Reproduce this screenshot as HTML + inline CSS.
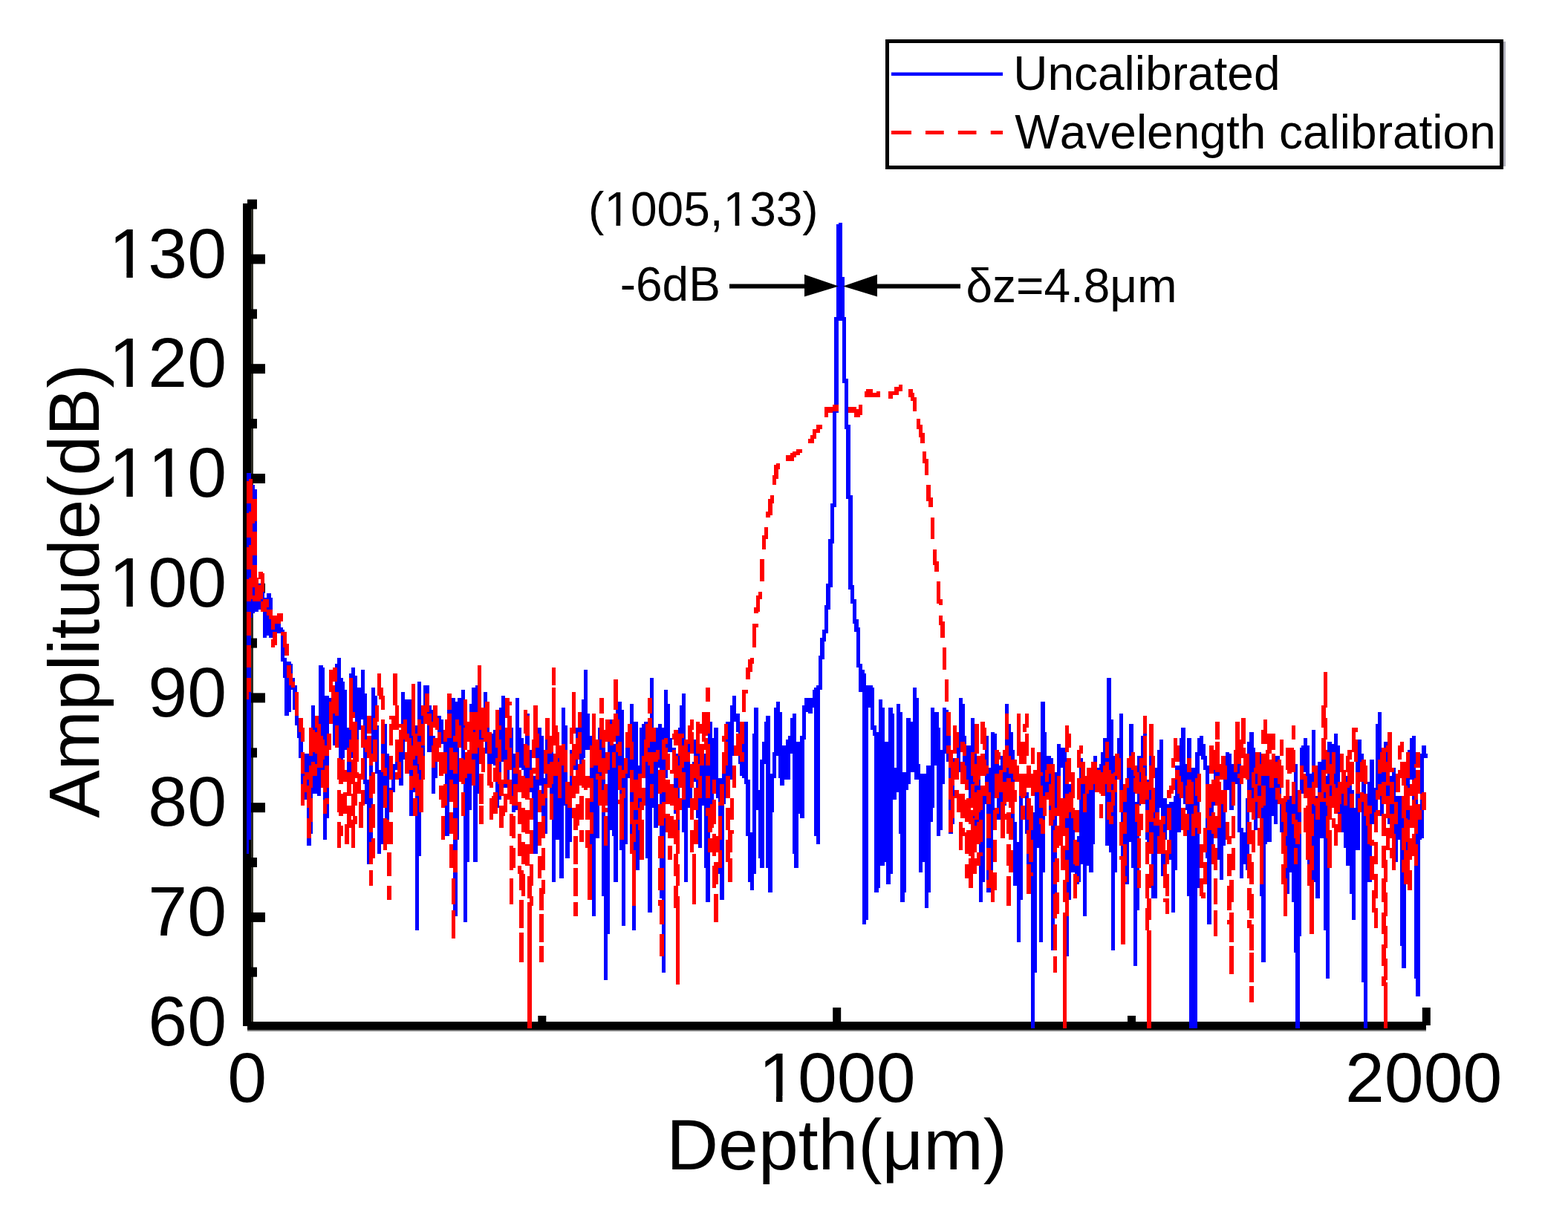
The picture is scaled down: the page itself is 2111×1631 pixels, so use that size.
<!DOCTYPE html>
<html><head><meta charset="utf-8"><title>Amplitude vs Depth</title>
<style>html,body{margin:0;padding:0;background:#fff;}svg{display:block;}text{font-kerning:none;font-feature-settings:"kern" 0;}</style>
</head><body>
<svg width="2111" height="1631" viewBox="0 0 2111 1631" font-family='"Liberation Sans", sans-serif'>
<rect width="2111" height="1631" fill="#fff"/>
<rect x="327" y="274" width="11" height="1108" fill="#000"/><rect x="338" y="274" width="3" height="1102" fill="#2e2e26"/><rect x="333" y="1376" width="1587" height="11" fill="#000"/><rect x="333" y="1387" width="1587" height="2" fill="#808080"/><rect x="333" y="1302.7" width="13" height="13" fill="#000"/><rect x="333" y="1228.9" width="24" height="13" fill="#000"/><rect x="333" y="1155.0" width="13" height="13" fill="#000"/><rect x="333" y="1081.2" width="24" height="13" fill="#000"/><rect x="333" y="1007.3" width="13" height="13" fill="#000"/><rect x="333" y="933.4" width="24" height="13" fill="#000"/><rect x="333" y="859.6" width="13" height="13" fill="#000"/><rect x="333" y="785.7" width="24" height="13" fill="#000"/><rect x="333" y="711.8" width="13" height="13" fill="#000"/><rect x="333" y="638.0" width="24" height="13" fill="#000"/><rect x="333" y="564.1" width="13" height="13" fill="#000"/><rect x="333" y="490.2" width="24" height="13" fill="#000"/><rect x="333" y="416.4" width="13" height="13" fill="#000"/><rect x="333" y="342.5" width="24" height="13" fill="#000"/><rect x="333" y="268.6" width="13" height="13" fill="#000"/><rect x="724.3" y="1368" width="11" height="13" fill="#000"/><rect x="1121.2" y="1357" width="11" height="24" fill="#000"/><rect x="1518.0" y="1368" width="11" height="13" fill="#000"/><rect x="1914.8" y="1357" width="11" height="24" fill="#000"/>
<g shape-rendering="crispEdges"><path fill="#0000ff" d="M332.1 637.2h2.7v10.8h-2.7zM332.1 677.7h2.7v13.5h-2.7zM332.1 723.6h2.7v13.5h-2.7zM332.1 766.8h2.7v13.5h-2.7zM332.1 810.0h2.7v13.5h-2.7zM332.1 855.9h2.7v13.5h-2.7zM332.1 899.1h2.7v13.5h-2.7zM332.1 942.3h2.7v207.9h-2.7zM334.8 637.2h2.7v8.1h-2.7zM334.8 677.7h2.7v10.8h-2.7zM334.8 723.6h2.7v10.8h-2.7zM334.8 766.8h2.7v10.8h-2.7zM334.8 810.0h2.7v13.5h-2.7zM334.8 855.9h2.7v13.5h-2.7zM334.8 899.1h2.7v13.5h-2.7zM334.8 931.5h2.7v199.8h-2.7zM337.5 807.3h2.7v24.3h-2.7zM340.2 653.4h2.7v18.9h-2.7zM340.2 704.7h2.7v10.8h-2.7zM340.2 747.9h2.7v13.5h-2.7zM340.2 791.1h2.7v10.8h-2.7zM340.2 810.0h2.7v16.2h-2.7zM342.9 658.8h2.7v13.5h-2.7zM342.9 702.0h2.7v13.5h-2.7zM342.9 747.9h2.7v13.5h-2.7zM342.9 810.0h2.7v13.5h-2.7zM345.6 810.0h2.7v13.5h-2.7zM348.3 785.7h2.7v2.7h-2.7zM348.3 810.0h2.7v10.8h-2.7zM351.0 807.3h2.7v2.7h-2.7zM353.7 796.5h2.7v10.8h-2.7zM353.7 823.5h2.7v35.1h-2.7zM356.4 804.6h2.7v2.7h-2.7zM356.4 823.5h2.7v35.1h-2.7zM359.1 799.2h2.7v8.1h-2.7zM359.1 818.1h2.7v2.7h-2.7zM359.1 828.9h2.7v27.0h-2.7zM361.8 799.2h2.7v21.6h-2.7zM361.8 834.3h2.7v24.3h-2.7zM364.5 804.6h2.7v16.2h-2.7zM364.5 847.8h2.7v10.8h-2.7zM367.2 847.8h2.7v2.7h-2.7zM369.9 839.7h2.7v10.8h-2.7zM372.6 839.7h2.7v13.5h-2.7zM375.3 839.7h2.7v13.5h-2.7zM378.0 845.1h2.7v5.4h-2.7zM378.0 855.9h2.7v35.1h-2.7zM380.7 847.8h2.7v2.7h-2.7zM380.7 872.1h2.7v40.5h-2.7zM383.4 885.6h2.7v78.3h-2.7zM386.1 891.0h2.7v5.4h-2.7zM386.1 912.6h2.7v51.3h-2.7zM388.8 891.0h2.7v5.4h-2.7zM388.8 923.4h2.7v35.1h-2.7zM391.5 893.7h2.7v13.5h-2.7zM391.5 926.1h2.7v2.7h-2.7zM394.2 912.6h2.7v5.4h-2.7zM394.2 926.1h2.7v29.7h-2.7zM396.9 923.4h2.7v8.1h-2.7zM396.9 963.9h2.7v13.5h-2.7zM399.6 963.9h2.7v29.7h-2.7zM402.3 985.5h2.7v35.1h-2.7zM405.0 999.0h2.7v13.5h-2.7zM405.0 1042.2h2.7v13.5h-2.7zM407.7 1042.2h2.7v2.7h-2.7zM410.4 1015.2h2.7v24.3h-2.7zM410.4 1066.5h2.7v10.8h-2.7zM413.1 1015.2h2.7v24.3h-2.7zM413.1 1050.3h2.7v8.1h-2.7zM413.1 1088.1h2.7v13.5h-2.7zM413.1 1128.6h2.7v10.8h-2.7zM415.8 1017.9h2.7v13.5h-2.7zM415.8 1128.6h2.7v10.8h-2.7zM418.5 950.4h2.7v29.7h-2.7zM418.5 1017.9h2.7v8.1h-2.7zM418.5 1061.1h2.7v13.5h-2.7zM418.5 1107.0h2.7v16.2h-2.7zM421.2 950.4h2.7v32.4h-2.7zM421.2 1012.5h2.7v13.5h-2.7zM421.2 1044.9h2.7v24.3h-2.7zM423.9 980.1h2.7v5.4h-2.7zM423.9 1015.2h2.7v13.5h-2.7zM423.9 1044.9h2.7v24.3h-2.7zM426.6 1034.1h2.7v37.8h-2.7zM429.3 896.4h2.7v78.3h-2.7zM429.3 1034.1h2.7v37.8h-2.7zM432.0 896.4h2.7v94.5h-2.7zM432.0 1034.1h2.7v2.7h-2.7zM434.7 899.1h2.7v97.2h-2.7zM434.7 1023.3h2.7v13.5h-2.7zM434.7 1066.5h2.7v10.8h-2.7zM434.7 1096.2h2.7v35.1h-2.7zM437.4 936.9h2.7v67.5h-2.7zM437.4 1017.9h2.7v13.5h-2.7zM437.4 1066.5h2.7v8.1h-2.7zM437.4 1096.2h2.7v35.1h-2.7zM440.1 936.9h2.7v51.3h-2.7zM440.1 1017.9h2.7v13.5h-2.7zM440.1 1061.1h2.7v13.5h-2.7zM440.1 1082.7h2.7v18.9h-2.7zM442.8 939.6h2.7v5.4h-2.7zM448.2 961.2h2.7v43.2h-2.7zM450.9 893.7h2.7v5.4h-2.7zM450.9 918.0h2.7v13.5h-2.7zM450.9 963.9h2.7v13.5h-2.7zM453.6 885.6h2.7v45.9h-2.7zM453.6 963.9h2.7v13.5h-2.7zM456.3 885.6h2.7v135.0h-2.7zM459.0 912.6h2.7v110.7h-2.7zM461.7 918.0h2.7v102.6h-2.7zM464.4 928.8h2.7v81.0h-2.7zM467.1 980.1h2.7v27.0h-2.7zM467.1 1026.0h2.7v13.5h-2.7zM469.8 907.2h2.7v5.4h-2.7zM469.8 982.8h2.7v13.5h-2.7zM469.8 1026.0h2.7v13.5h-2.7zM472.5 899.1h2.7v13.5h-2.7zM472.5 1012.5h2.7v8.1h-2.7zM475.2 899.1h2.7v59.4h-2.7zM477.9 909.9h2.7v62.1h-2.7zM480.6 926.1h2.7v70.2h-2.7zM483.3 926.1h2.7v56.7h-2.7zM486.0 901.8h2.7v67.5h-2.7zM488.7 901.8h2.7v75.6h-2.7zM488.7 1007.1h2.7v13.5h-2.7zM488.7 1050.3h2.7v5.4h-2.7zM491.4 934.2h2.7v62.1h-2.7zM491.4 1012.5h2.7v70.2h-2.7zM494.1 1050.3h2.7v113.4h-2.7zM496.8 1031.4h2.7v13.5h-2.7zM496.8 1074.6h2.7v13.5h-2.7zM496.8 1120.5h2.7v13.5h-2.7zM499.5 926.1h2.7v89.1h-2.7zM499.5 1031.4h2.7v8.1h-2.7zM499.5 1074.6h2.7v8.1h-2.7zM499.5 1120.5h2.7v8.1h-2.7zM502.2 926.1h2.7v40.5h-2.7zM502.2 982.8h2.7v13.5h-2.7zM504.9 936.9h2.7v13.5h-2.7zM504.9 982.8h2.7v13.5h-2.7zM504.9 1026.0h2.7v16.2h-2.7zM507.6 977.4h2.7v172.8h-2.7zM510.3 1036.8h2.7v113.4h-2.7zM513.0 1001.7h2.7v13.5h-2.7zM513.0 1039.5h2.7v97.2h-2.7zM515.7 1001.7h2.7v13.5h-2.7zM515.7 1044.9h2.7v13.5h-2.7zM518.4 974.7h2.7v59.4h-2.7zM518.4 1044.9h2.7v13.5h-2.7zM518.4 1088.1h2.7v13.5h-2.7zM521.1 1015.2h2.7v89.1h-2.7zM523.8 1061.1h2.7v2.7h-2.7zM526.5 1050.3h2.7v13.5h-2.7zM529.2 1028.7h2.7v37.8h-2.7zM531.9 1026.0h2.7v10.8h-2.7zM537.3 1012.5h2.7v13.5h-2.7zM537.3 1047.6h2.7v10.8h-2.7zM540.0 931.5h2.7v43.2h-2.7zM540.0 1012.5h2.7v45.9h-2.7zM542.7 931.5h2.7v37.8h-2.7zM542.7 996.3h2.7v27.0h-2.7zM545.4 942.3h2.7v27.0h-2.7zM548.1 942.3h2.7v45.9h-2.7zM550.8 942.3h2.7v51.3h-2.7zM550.8 1036.8h2.7v8.1h-2.7zM550.8 1063.8h2.7v35.1h-2.7zM553.5 990.9h2.7v13.5h-2.7zM553.5 1036.8h2.7v8.1h-2.7zM553.5 1063.8h2.7v35.1h-2.7zM556.2 1023.3h2.7v8.1h-2.7zM556.2 1061.1h2.7v5.4h-2.7zM558.9 977.4h2.7v10.8h-2.7zM558.9 1017.9h2.7v13.5h-2.7zM558.9 1071.9h2.7v2.7h-2.7zM558.9 1098.9h2.7v153.9h-2.7zM561.6 918.0h2.7v51.3h-2.7zM561.6 990.9h2.7v8.1h-2.7zM561.6 1028.7h2.7v13.5h-2.7zM561.6 1071.9h2.7v180.9h-2.7zM564.3 918.0h2.7v51.3h-2.7zM564.3 990.9h2.7v8.1h-2.7zM564.3 1036.8h2.7v13.5h-2.7zM564.3 1093.5h2.7v59.4h-2.7zM567.0 963.9h2.7v10.8h-2.7zM567.0 1004.4h2.7v2.7h-2.7zM569.7 923.4h2.7v27.0h-2.7zM569.7 1004.4h2.7v13.5h-2.7zM572.4 923.4h2.7v10.8h-2.7zM575.1 923.4h2.7v10.8h-2.7zM575.1 958.5h2.7v2.7h-2.7zM575.1 977.4h2.7v35.1h-2.7zM577.8 950.4h2.7v10.8h-2.7zM577.8 990.9h2.7v21.6h-2.7zM580.5 955.8h2.7v16.2h-2.7zM580.5 990.9h2.7v13.5h-2.7zM580.5 1034.1h2.7v35.1h-2.7zM583.2 990.9h2.7v2.7h-2.7zM583.2 1034.1h2.7v35.1h-2.7zM585.9 1026.0h2.7v21.6h-2.7zM588.6 963.9h2.7v2.7h-2.7zM588.6 982.8h2.7v2.7h-2.7zM591.3 963.9h2.7v21.6h-2.7zM594.0 969.3h2.7v32.4h-2.7zM596.7 999.0h2.7v13.5h-2.7zM599.4 999.0h2.7v13.5h-2.7zM599.4 1042.2h2.7v13.5h-2.7zM599.4 1085.4h2.7v40.5h-2.7zM602.1 955.8h2.7v5.4h-2.7zM602.1 993.6h2.7v132.3h-2.7zM604.8 955.8h2.7v5.4h-2.7zM604.8 993.6h2.7v13.5h-2.7zM604.8 1036.8h2.7v13.5h-2.7zM607.5 939.6h2.7v67.5h-2.7zM607.5 1036.8h2.7v13.5h-2.7zM610.2 939.6h2.7v51.3h-2.7zM610.2 999.0h2.7v13.5h-2.7zM610.2 1042.2h2.7v13.5h-2.7zM610.2 1088.1h2.7v13.5h-2.7zM610.2 1131.3h2.7v13.5h-2.7zM610.2 1174.5h2.7v8.1h-2.7zM610.2 1217.7h2.7v8.1h-2.7zM612.9 945.0h2.7v24.3h-2.7zM612.9 999.0h2.7v13.5h-2.7zM612.9 1042.2h2.7v13.5h-2.7zM612.9 1088.1h2.7v13.5h-2.7zM612.9 1131.3h2.7v13.5h-2.7zM612.9 1174.5h2.7v59.4h-2.7zM615.6 939.6h2.7v29.7h-2.7zM615.6 1007.1h2.7v124.2h-2.7zM618.3 939.6h2.7v37.8h-2.7zM621.0 928.8h2.7v91.8h-2.7zM623.7 928.8h2.7v13.5h-2.7zM623.7 977.4h2.7v2.7h-2.7zM623.7 1009.8h2.7v13.5h-2.7zM623.7 1055.7h2.7v10.8h-2.7zM623.7 1098.9h2.7v143.1h-2.7zM626.4 1047.6h2.7v194.4h-2.7zM629.1 1042.2h2.7v118.8h-2.7zM631.8 947.7h2.7v10.8h-2.7zM631.8 1042.2h2.7v48.6h-2.7zM634.5 926.1h2.7v32.4h-2.7zM634.5 1015.2h2.7v8.1h-2.7zM637.2 926.1h2.7v32.4h-2.7zM637.2 982.8h2.7v2.7h-2.7zM637.2 1015.2h2.7v8.1h-2.7zM637.2 1058.4h2.7v102.6h-2.7zM639.9 923.4h2.7v35.1h-2.7zM639.9 1015.2h2.7v145.8h-2.7zM642.6 1007.1h2.7v62.1h-2.7zM645.3 982.8h2.7v13.5h-2.7zM648.0 993.6h2.7v2.7h-2.7zM650.7 931.5h2.7v21.6h-2.7zM653.4 931.5h2.7v13.5h-2.7zM653.4 999.0h2.7v16.2h-2.7zM656.1 980.1h2.7v5.4h-2.7zM656.1 1015.2h2.7v13.5h-2.7zM658.8 1015.2h2.7v13.5h-2.7zM661.5 988.2h2.7v40.5h-2.7zM664.2 982.8h2.7v48.6h-2.7zM666.9 1007.1h2.7v13.5h-2.7zM666.9 1053.0h2.7v13.5h-2.7zM669.6 1055.7h2.7v32.4h-2.7zM672.3 953.1h2.7v24.3h-2.7zM672.3 982.8h2.7v13.5h-2.7zM672.3 1026.0h2.7v13.5h-2.7zM672.3 1071.9h2.7v5.4h-2.7zM675.0 936.9h2.7v89.1h-2.7zM677.7 936.9h2.7v86.4h-2.7zM677.7 1055.7h2.7v5.4h-2.7zM680.4 1009.8h2.7v13.5h-2.7zM680.4 1055.7h2.7v5.4h-2.7zM683.1 1036.8h2.7v13.5h-2.7zM685.8 993.6h2.7v13.5h-2.7zM688.5 980.1h2.7v91.8h-2.7zM688.5 1085.4h2.7v8.1h-2.7zM691.2 1015.2h2.7v18.9h-2.7zM691.2 1042.2h2.7v13.5h-2.7zM691.2 1085.4h2.7v8.1h-2.7zM693.9 939.6h2.7v72.9h-2.7zM693.9 1042.2h2.7v13.5h-2.7zM693.9 1085.4h2.7v5.4h-2.7zM696.6 939.6h2.7v72.9h-2.7zM699.3 980.1h2.7v54.0h-2.7zM702.0 993.6h2.7v43.2h-2.7zM704.7 1031.4h2.7v13.5h-2.7zM707.4 990.9h2.7v10.8h-2.7zM707.4 1034.1h2.7v13.5h-2.7zM710.1 961.2h2.7v2.7h-2.7zM710.1 990.9h2.7v13.5h-2.7zM710.1 1034.1h2.7v13.5h-2.7zM712.8 1009.8h2.7v27.0h-2.7zM712.8 1061.1h2.7v5.4h-2.7zM715.5 1061.1h2.7v13.5h-2.7zM718.2 1044.9h2.7v105.3h-2.7zM720.9 1007.1h2.7v13.5h-2.7zM720.9 1050.3h2.7v99.9h-2.7zM723.6 980.1h2.7v8.1h-2.7zM723.6 1007.1h2.7v13.5h-2.7zM723.6 1050.3h2.7v13.5h-2.7zM726.3 980.1h2.7v78.3h-2.7zM729.0 990.9h2.7v78.3h-2.7zM729.0 1085.4h2.7v13.5h-2.7zM731.7 1047.6h2.7v8.1h-2.7zM731.7 1085.4h2.7v13.5h-2.7zM734.4 996.3h2.7v13.5h-2.7zM734.4 1042.2h2.7v13.5h-2.7zM734.4 1074.6h2.7v48.6h-2.7zM737.1 1015.2h2.7v13.5h-2.7zM739.8 1015.2h2.7v10.8h-2.7zM739.8 1061.1h2.7v8.1h-2.7zM742.5 1012.5h2.7v13.5h-2.7zM742.5 1055.7h2.7v13.5h-2.7zM742.5 1104.3h2.7v83.7h-2.7zM745.2 1044.9h2.7v143.1h-2.7zM747.9 1044.9h2.7v86.4h-2.7zM750.6 1020.6h2.7v5.4h-2.7zM750.6 1074.6h2.7v56.7h-2.7zM753.3 1074.6h2.7v108.0h-2.7zM756.0 953.1h2.7v48.6h-2.7zM756.0 1031.4h2.7v151.2h-2.7zM758.7 953.1h2.7v48.6h-2.7zM758.7 1039.5h2.7v45.9h-2.7zM761.4 977.4h2.7v32.4h-2.7zM761.4 1039.5h2.7v13.5h-2.7zM761.4 1082.7h2.7v72.9h-2.7zM764.1 1088.1h2.7v67.5h-2.7zM766.8 1009.8h2.7v5.4h-2.7zM766.8 1044.9h2.7v13.5h-2.7zM766.8 1088.1h2.7v45.9h-2.7zM772.2 1031.4h2.7v5.4h-2.7zM774.9 980.1h2.7v13.5h-2.7zM774.9 1023.3h2.7v13.5h-2.7zM777.6 980.1h2.7v5.4h-2.7zM780.3 980.1h2.7v5.4h-2.7zM780.3 1015.2h2.7v13.5h-2.7zM783.0 942.3h2.7v81.0h-2.7zM785.7 901.8h2.7v118.8h-2.7zM788.4 901.8h2.7v108.0h-2.7zM791.1 961.2h2.7v48.6h-2.7zM793.8 990.9h2.7v13.5h-2.7zM793.8 1034.1h2.7v13.5h-2.7zM793.8 1080.0h2.7v13.5h-2.7zM793.8 1123.2h2.7v13.5h-2.7zM796.5 1034.1h2.7v13.5h-2.7zM796.5 1080.0h2.7v13.5h-2.7zM796.5 1123.2h2.7v110.7h-2.7zM799.2 1031.4h2.7v202.5h-2.7zM801.9 1031.4h2.7v10.8h-2.7zM801.9 1050.3h2.7v78.3h-2.7zM804.6 980.1h2.7v16.2h-2.7zM804.6 1039.5h2.7v2.7h-2.7zM804.6 1085.4h2.7v43.2h-2.7zM807.3 996.3h2.7v13.5h-2.7zM807.3 1039.5h2.7v5.4h-2.7zM810.0 1007.1h2.7v13.5h-2.7zM810.0 1050.3h2.7v13.5h-2.7zM810.0 1093.5h2.7v113.4h-2.7zM812.7 1007.1h2.7v13.5h-2.7zM812.7 1050.3h2.7v5.4h-2.7zM812.7 1093.5h2.7v5.4h-2.7zM812.7 1139.4h2.7v180.9h-2.7zM815.4 1139.4h2.7v180.9h-2.7zM818.1 999.0h2.7v13.5h-2.7zM818.1 1036.8h2.7v221.4h-2.7zM820.8 969.3h2.7v5.4h-2.7zM820.8 1004.4h2.7v113.4h-2.7zM823.5 1004.4h2.7v8.1h-2.7zM823.5 1034.1h2.7v91.8h-2.7zM826.2 1001.7h2.7v10.8h-2.7zM826.2 1034.1h2.7v153.9h-2.7zM828.9 955.8h2.7v5.4h-2.7zM828.9 990.9h2.7v10.8h-2.7zM828.9 1012.5h2.7v175.5h-2.7zM831.6 945.0h2.7v24.3h-2.7zM831.6 990.9h2.7v8.1h-2.7zM831.6 1017.9h2.7v13.5h-2.7zM834.3 945.0h2.7v54.0h-2.7zM834.3 1017.9h2.7v13.5h-2.7zM834.3 1063.8h2.7v5.4h-2.7zM834.3 1131.3h2.7v13.5h-2.7zM837.0 955.8h2.7v81.0h-2.7zM837.0 1047.6h2.7v13.5h-2.7zM837.0 1131.3h2.7v116.1h-2.7zM839.7 1047.6h2.7v13.5h-2.7zM839.7 1074.6h2.7v172.8h-2.7zM842.4 1007.1h2.7v13.5h-2.7zM842.4 1042.2h2.7v94.5h-2.7zM845.1 1007.1h2.7v40.5h-2.7zM847.8 947.7h2.7v27.0h-2.7zM847.8 1023.3h2.7v13.5h-2.7zM847.8 1066.5h2.7v13.5h-2.7zM847.8 1109.7h2.7v13.5h-2.7zM850.5 947.7h2.7v51.3h-2.7zM850.5 1023.3h2.7v13.5h-2.7zM850.5 1066.5h2.7v13.5h-2.7zM850.5 1220.4h2.7v32.4h-2.7zM853.2 972.0h2.7v78.3h-2.7zM853.2 1090.8h2.7v13.5h-2.7zM853.2 1134.0h2.7v10.8h-2.7zM853.2 1220.4h2.7v32.4h-2.7zM855.9 972.0h2.7v78.3h-2.7zM855.9 1090.8h2.7v13.5h-2.7zM855.9 1109.7h2.7v62.1h-2.7zM858.6 1031.4h2.7v10.8h-2.7zM858.6 1074.6h2.7v13.5h-2.7zM858.6 1117.8h2.7v54.0h-2.7zM861.3 980.1h2.7v62.1h-2.7zM861.3 1074.6h2.7v5.4h-2.7zM864.0 974.7h2.7v43.2h-2.7zM866.7 972.0h2.7v24.3h-2.7zM869.4 972.0h2.7v2.7h-2.7zM869.4 1026.0h2.7v129.6h-2.7zM872.1 1007.1h2.7v5.4h-2.7zM872.1 1031.4h2.7v197.1h-2.7zM874.8 912.6h2.7v27.0h-2.7zM874.8 961.2h2.7v5.4h-2.7zM874.8 999.0h2.7v13.5h-2.7zM874.8 1042.2h2.7v13.5h-2.7zM874.8 1074.6h2.7v153.9h-2.7zM877.5 912.6h2.7v67.5h-2.7zM877.5 999.0h2.7v13.5h-2.7zM877.5 1042.2h2.7v13.5h-2.7zM877.5 1074.6h2.7v13.5h-2.7zM880.2 999.0h2.7v13.5h-2.7zM880.2 1026.0h2.7v89.1h-2.7zM882.9 980.1h2.7v29.7h-2.7zM882.9 1026.0h2.7v89.1h-2.7zM885.6 974.7h2.7v35.1h-2.7zM885.6 1023.3h2.7v10.8h-2.7zM888.3 974.7h2.7v62.1h-2.7zM888.3 1069.2h2.7v13.5h-2.7zM888.3 1112.4h2.7v13.5h-2.7zM888.3 1155.6h2.7v13.5h-2.7zM888.3 1198.8h2.7v10.8h-2.7zM891.0 980.1h2.7v16.2h-2.7zM891.0 1023.3h2.7v13.5h-2.7zM891.0 1066.5h2.7v13.5h-2.7zM891.0 1112.4h2.7v13.5h-2.7zM891.0 1155.6h2.7v13.5h-2.7zM891.0 1198.8h2.7v13.5h-2.7zM891.0 1244.7h2.7v13.5h-2.7zM891.0 1287.9h2.7v21.6h-2.7zM893.7 928.8h2.7v64.8h-2.7zM893.7 1023.3h2.7v13.5h-2.7zM893.7 1066.5h2.7v13.5h-2.7zM893.7 1101.6h2.7v207.9h-2.7zM896.4 928.8h2.7v64.8h-2.7zM896.4 1001.7h2.7v5.4h-2.7zM896.4 1036.8h2.7v10.8h-2.7zM899.1 947.7h2.7v64.8h-2.7zM901.8 993.6h2.7v18.9h-2.7zM904.5 1007.1h2.7v2.7h-2.7zM907.2 1007.1h2.7v2.7h-2.7zM907.2 1047.6h2.7v13.5h-2.7zM907.2 1090.8h2.7v5.4h-2.7zM909.9 1015.2h2.7v2.7h-2.7zM909.9 1047.6h2.7v13.5h-2.7zM912.6 980.1h2.7v8.1h-2.7zM912.6 1017.9h2.7v13.5h-2.7zM912.6 1061.1h2.7v13.5h-2.7zM912.6 1104.3h2.7v13.5h-2.7zM915.3 950.4h2.7v37.8h-2.7zM918.0 934.2h2.7v54.0h-2.7zM918.0 993.6h2.7v10.8h-2.7zM918.0 1034.1h2.7v5.4h-2.7zM918.0 1077.3h2.7v43.2h-2.7zM920.7 934.2h2.7v62.1h-2.7zM920.7 1026.0h2.7v13.5h-2.7zM920.7 1077.3h2.7v110.7h-2.7zM923.4 1026.0h2.7v162.0h-2.7zM926.1 1001.7h2.7v10.8h-2.7zM926.1 1026.0h2.7v62.1h-2.7zM928.8 1061.1h2.7v13.5h-2.7zM931.5 1026.0h2.7v2.7h-2.7zM934.2 996.3h2.7v21.6h-2.7zM934.2 1047.6h2.7v5.4h-2.7zM936.9 1015.2h2.7v2.7h-2.7zM936.9 1050.3h2.7v10.8h-2.7zM936.9 1090.8h2.7v10.8h-2.7zM939.6 1015.2h2.7v13.5h-2.7zM939.6 1074.6h2.7v67.5h-2.7zM942.3 1031.4h2.7v13.5h-2.7zM942.3 1074.6h2.7v67.5h-2.7zM945.0 1031.4h2.7v54.0h-2.7zM947.7 1015.2h2.7v153.9h-2.7zM950.4 1031.4h2.7v13.5h-2.7zM950.4 1074.6h2.7v13.5h-2.7zM950.4 1098.9h2.7v116.1h-2.7zM953.1 988.2h2.7v13.5h-2.7zM953.1 1031.4h2.7v13.5h-2.7zM953.1 1074.6h2.7v13.5h-2.7zM953.1 1120.5h2.7v8.1h-2.7zM953.1 1147.5h2.7v67.5h-2.7zM955.8 972.0h2.7v110.7h-2.7zM958.5 993.6h2.7v56.7h-2.7zM958.5 1069.2h2.7v8.1h-2.7zM961.2 980.1h2.7v70.2h-2.7zM963.9 980.1h2.7v94.5h-2.7zM966.6 1047.6h2.7v32.4h-2.7zM966.6 1085.4h2.7v13.5h-2.7zM966.6 1169.1h2.7v8.1h-2.7zM969.3 1047.6h2.7v8.1h-2.7zM969.3 1085.4h2.7v13.5h-2.7zM969.3 1131.3h2.7v13.5h-2.7zM969.3 1169.1h2.7v43.2h-2.7zM972.0 1042.2h2.7v13.5h-2.7zM972.0 1085.4h2.7v126.9h-2.7zM974.7 1042.2h2.7v40.5h-2.7zM977.4 972.0h2.7v2.7h-2.7zM977.4 996.3h2.7v2.7h-2.7zM977.4 1031.4h2.7v13.5h-2.7zM980.1 972.0h2.7v72.9h-2.7zM982.8 950.4h2.7v99.9h-2.7zM985.5 936.9h2.7v81.0h-2.7zM988.2 936.9h2.7v35.1h-2.7zM990.9 961.2h2.7v24.3h-2.7zM993.6 961.2h2.7v27.0h-2.7zM993.6 1017.9h2.7v10.8h-2.7zM996.3 1026.0h2.7v18.9h-2.7zM999.0 1001.7h2.7v10.8h-2.7zM999.0 1026.0h2.7v21.6h-2.7zM1001.7 972.0h2.7v83.7h-2.7zM1004.4 972.0h2.7v153.9h-2.7zM1007.1 1050.3h2.7v137.7h-2.7zM1009.8 1120.5h2.7v78.3h-2.7zM1012.5 988.2h2.7v210.6h-2.7zM1015.2 953.1h2.7v224.1h-2.7zM1017.9 953.1h2.7v137.7h-2.7zM1020.6 1063.8h2.7v91.8h-2.7zM1023.3 1023.3h2.7v145.8h-2.7zM1026.0 999.0h2.7v170.1h-2.7zM1028.7 972.0h2.7v56.7h-2.7zM1031.4 963.9h2.7v205.2h-2.7zM1034.1 963.9h2.7v237.6h-2.7zM1036.8 1042.2h2.7v159.3h-2.7zM1039.5 1012.5h2.7v81.0h-2.7zM1042.2 953.1h2.7v94.5h-2.7zM1044.9 945.0h2.7v72.9h-2.7zM1047.6 945.0h2.7v102.6h-2.7zM1050.3 958.5h2.7v99.9h-2.7zM1053.0 1004.4h2.7v54.0h-2.7zM1055.7 1004.4h2.7v45.9h-2.7zM1058.4 996.3h2.7v54.0h-2.7zM1061.1 990.9h2.7v59.4h-2.7zM1063.8 966.6h2.7v48.6h-2.7zM1066.5 961.2h2.7v189.0h-2.7zM1069.2 961.2h2.7v207.9h-2.7zM1071.9 999.0h2.7v170.1h-2.7zM1074.6 999.0h2.7v97.2h-2.7zM1077.3 990.9h2.7v110.7h-2.7zM1080.0 950.4h2.7v151.2h-2.7zM1082.7 939.6h2.7v56.7h-2.7zM1085.4 939.6h2.7v18.9h-2.7zM1088.1 939.6h2.7v21.6h-2.7zM1090.8 939.6h2.7v21.6h-2.7zM1093.5 928.8h2.7v24.3h-2.7zM1096.2 926.1h2.7v199.8h-2.7zM1098.9 923.4h2.7v213.3h-2.7zM1101.6 882.9h2.7v253.8h-2.7zM1104.3 858.6h2.7v70.2h-2.7zM1107.0 847.8h2.7v40.5h-2.7zM1109.7 815.4h2.7v48.6h-2.7zM1112.4 785.7h2.7v67.5h-2.7zM1115.1 726.3h2.7v94.5h-2.7zM1117.8 677.7h2.7v113.4h-2.7zM1120.5 553.5h2.7v178.2h-2.7zM1123.2 426.6h2.7v118.8h-2.7zM1123.2 553.5h2.7v129.6h-2.7zM1125.9 302.4h2.7v243.0h-2.7zM1125.9 553.5h2.7v2.7h-2.7zM1128.6 299.7h2.7v132.3h-2.7zM1131.3 299.7h2.7v132.3h-2.7zM1134.0 372.6h2.7v143.1h-2.7zM1136.7 426.6h2.7v151.2h-2.7zM1139.4 510.3h2.7v162.0h-2.7zM1142.1 572.4h2.7v221.4h-2.7zM1144.8 666.9h2.7v145.8h-2.7zM1147.5 788.4h2.7v51.3h-2.7zM1150.2 807.3h2.7v43.2h-2.7zM1152.9 834.3h2.7v64.8h-2.7zM1155.6 845.1h2.7v86.4h-2.7zM1158.3 893.7h2.7v37.8h-2.7zM1161.0 901.8h2.7v342.9h-2.7zM1163.7 907.2h2.7v337.5h-2.7zM1166.4 923.4h2.7v315.9h-2.7zM1169.1 923.4h2.7v29.7h-2.7zM1171.8 923.4h2.7v59.4h-2.7zM1174.5 926.1h2.7v64.8h-2.7zM1177.2 977.4h2.7v224.1h-2.7zM1179.9 985.5h2.7v216.0h-2.7zM1182.6 942.3h2.7v253.8h-2.7zM1185.3 942.3h2.7v224.1h-2.7zM1188.0 953.1h2.7v213.3h-2.7zM1190.7 999.0h2.7v162.0h-2.7zM1193.4 999.0h2.7v191.7h-2.7zM1196.1 953.1h2.7v237.6h-2.7zM1198.8 953.1h2.7v224.1h-2.7zM1201.5 961.2h2.7v116.1h-2.7zM1204.2 1034.1h2.7v43.2h-2.7zM1206.9 947.7h2.7v118.8h-2.7zM1209.6 947.7h2.7v175.5h-2.7zM1212.3 958.5h2.7v256.5h-2.7zM1215.0 1039.5h2.7v175.5h-2.7zM1217.7 1039.5h2.7v162.0h-2.7zM1220.4 966.6h2.7v97.2h-2.7zM1223.1 966.6h2.7v89.1h-2.7zM1225.8 972.0h2.7v67.5h-2.7zM1228.5 926.1h2.7v113.4h-2.7zM1231.2 926.1h2.7v124.2h-2.7zM1233.9 939.6h2.7v110.7h-2.7zM1236.6 1028.7h2.7v145.8h-2.7zM1239.3 1042.2h2.7v132.3h-2.7zM1242.0 1042.2h2.7v118.8h-2.7zM1244.7 1042.2h2.7v180.9h-2.7zM1247.4 1031.4h2.7v191.7h-2.7zM1250.1 1031.4h2.7v170.1h-2.7zM1252.8 953.1h2.7v153.9h-2.7zM1255.5 953.1h2.7v135.0h-2.7zM1258.2 958.5h2.7v72.9h-2.7zM1260.9 958.5h2.7v167.4h-2.7zM1263.6 980.1h2.7v145.8h-2.7zM1266.3 1009.8h2.7v108.0h-2.7zM1269.0 953.1h2.7v102.6h-2.7zM1271.7 953.1h2.7v62.1h-2.7zM1274.4 955.8h2.7v2.7h-2.7zM1274.4 990.9h2.7v13.5h-2.7zM1274.4 1015.2h2.7v10.8h-2.7zM1277.1 990.9h2.7v13.5h-2.7zM1277.1 1034.1h2.7v13.5h-2.7zM1277.1 1077.3h2.7v13.5h-2.7zM1277.1 1120.5h2.7v2.7h-2.7zM1279.8 1120.5h2.7v2.7h-2.7zM1282.5 1020.6h2.7v5.4h-2.7zM1282.5 1058.4h2.7v13.5h-2.7zM1282.5 1101.6h2.7v8.1h-2.7zM1287.9 1007.1h2.7v13.5h-2.7zM1290.6 939.6h2.7v99.9h-2.7zM1293.3 939.6h2.7v59.4h-2.7zM1296.0 947.7h2.7v51.3h-2.7zM1296.0 1017.9h2.7v8.1h-2.7zM1298.7 990.9h2.7v10.8h-2.7zM1298.7 1017.9h2.7v13.5h-2.7zM1301.4 1004.4h2.7v45.9h-2.7zM1304.1 1004.4h2.7v70.2h-2.7zM1306.8 966.6h2.7v45.9h-2.7zM1306.8 1044.9h2.7v10.8h-2.7zM1309.5 966.6h2.7v45.9h-2.7zM1309.5 1053.0h2.7v2.7h-2.7zM1309.5 1098.9h2.7v2.7h-2.7zM1312.2 1015.2h2.7v13.5h-2.7zM1312.2 1058.4h2.7v8.1h-2.7zM1312.2 1104.3h2.7v8.1h-2.7zM1314.9 1058.4h2.7v5.4h-2.7zM1314.9 1104.3h2.7v2.7h-2.7zM1317.6 1050.3h2.7v13.5h-2.7zM1317.6 1093.5h2.7v10.8h-2.7zM1317.6 1136.7h2.7v10.8h-2.7zM1317.6 1166.4h2.7v48.6h-2.7zM1320.3 1090.8h2.7v13.5h-2.7zM1320.3 1134.0h2.7v13.5h-2.7zM1320.3 1152.9h2.7v62.1h-2.7zM1323.0 1071.9h2.7v116.1h-2.7zM1325.7 1009.8h2.7v13.5h-2.7zM1325.7 1044.9h2.7v8.1h-2.7zM1325.7 1071.9h2.7v10.8h-2.7zM1328.4 990.9h2.7v40.5h-2.7zM1328.4 1042.2h2.7v10.8h-2.7zM1328.4 1082.7h2.7v13.5h-2.7zM1328.4 1128.6h2.7v13.5h-2.7zM1328.4 1171.8h2.7v13.5h-2.7zM1328.4 1196.1h2.7v5.4h-2.7zM1331.1 1034.1h2.7v32.4h-2.7zM1331.1 1082.7h2.7v13.5h-2.7zM1331.1 1128.6h2.7v13.5h-2.7zM1331.1 1196.1h2.7v5.4h-2.7zM1333.8 985.5h2.7v186.3h-2.7zM1336.5 985.5h2.7v105.3h-2.7zM1339.2 988.2h2.7v21.6h-2.7zM1339.2 1028.7h2.7v13.5h-2.7zM1341.9 1028.7h2.7v13.5h-2.7zM1341.9 1074.6h2.7v13.5h-2.7zM1341.9 1096.2h2.7v8.1h-2.7zM1344.6 1031.4h2.7v5.4h-2.7zM1344.6 1066.5h2.7v37.8h-2.7zM1347.3 1017.9h2.7v18.9h-2.7zM1347.3 1066.5h2.7v13.5h-2.7zM1350.0 1039.5h2.7v13.5h-2.7zM1352.7 947.7h2.7v13.5h-2.7zM1352.7 996.3h2.7v8.1h-2.7zM1352.7 1039.5h2.7v13.5h-2.7zM1352.7 1082.7h2.7v2.7h-2.7zM1355.4 947.7h2.7v13.5h-2.7zM1355.4 996.3h2.7v8.1h-2.7zM1355.4 1034.1h2.7v13.5h-2.7zM1358.1 974.7h2.7v43.2h-2.7zM1358.1 1042.2h2.7v5.4h-2.7zM1360.8 985.5h2.7v37.8h-2.7zM1360.8 1042.2h2.7v10.8h-2.7zM1360.8 1096.2h2.7v5.4h-2.7zM1363.5 1009.8h2.7v13.5h-2.7zM1363.5 1050.3h2.7v2.7h-2.7zM1363.5 1096.2h2.7v97.2h-2.7zM1366.2 1107.0h2.7v86.4h-2.7zM1368.9 1134.0h2.7v135.0h-2.7zM1371.6 1071.9h2.7v197.1h-2.7zM1374.3 1074.6h2.7v10.8h-2.7zM1374.3 1104.3h2.7v108.0h-2.7zM1379.7 1071.9h2.7v51.3h-2.7zM1382.4 1066.5h2.7v8.1h-2.7zM1382.4 1104.3h2.7v13.5h-2.7zM1382.4 1150.2h2.7v13.5h-2.7zM1385.1 1161.0h2.7v2.7h-2.7zM1387.8 1117.8h2.7v13.5h-2.7zM1387.8 1161.0h2.7v13.5h-2.7zM1387.8 1179.9h2.7v205.2h-2.7zM1390.5 1093.5h2.7v291.6h-2.7zM1393.2 1066.5h2.7v243.0h-2.7zM1395.9 1066.5h2.7v75.6h-2.7zM1398.6 1088.1h2.7v13.5h-2.7zM1398.6 1109.7h2.7v159.3h-2.7zM1401.3 945.0h2.7v94.5h-2.7zM1401.3 1044.9h2.7v13.5h-2.7zM1401.3 1088.1h2.7v13.5h-2.7zM1401.3 1123.2h2.7v145.8h-2.7zM1404.0 945.0h2.7v126.9h-2.7zM1404.0 1098.9h2.7v5.4h-2.7zM1404.0 1123.2h2.7v51.3h-2.7zM1406.7 985.5h2.7v51.3h-2.7zM1406.7 1053.0h2.7v13.5h-2.7zM1409.4 1017.9h2.7v10.8h-2.7zM1409.4 1053.0h2.7v13.5h-2.7zM1412.1 1017.9h2.7v10.8h-2.7zM1412.1 1042.2h2.7v13.5h-2.7zM1412.1 1085.4h2.7v5.4h-2.7zM1414.8 1020.6h2.7v8.1h-2.7zM1414.8 1112.4h2.7v167.4h-2.7zM1417.5 1104.3h2.7v13.5h-2.7zM1417.5 1147.5h2.7v13.5h-2.7zM1417.5 1190.7h2.7v13.5h-2.7zM1417.5 1236.6h2.7v8.1h-2.7zM1420.2 1039.5h2.7v48.6h-2.7zM1420.2 1098.9h2.7v13.5h-2.7zM1420.2 1147.5h2.7v8.1h-2.7zM1420.2 1190.7h2.7v10.8h-2.7zM1422.9 1001.7h2.7v43.2h-2.7zM1425.6 1001.7h2.7v43.2h-2.7zM1428.3 1007.1h2.7v27.0h-2.7zM1431.0 1007.1h2.7v67.5h-2.7zM1433.7 1012.5h2.7v13.5h-2.7zM1433.7 1055.7h2.7v13.5h-2.7zM1433.7 1101.6h2.7v13.5h-2.7zM1433.7 1144.8h2.7v13.5h-2.7zM1436.4 1055.7h2.7v13.5h-2.7zM1436.4 1101.6h2.7v13.5h-2.7zM1436.4 1144.8h2.7v13.5h-2.7zM1436.4 1188.0h2.7v13.5h-2.7zM1436.4 1233.9h2.7v54.0h-2.7zM1439.1 1055.7h2.7v10.8h-2.7zM1439.1 1093.5h2.7v118.8h-2.7zM1441.8 1101.6h2.7v72.9h-2.7zM1444.5 1117.8h2.7v13.5h-2.7zM1444.5 1163.7h2.7v10.8h-2.7zM1447.2 1166.4h2.7v10.8h-2.7zM1449.9 1125.9h2.7v8.1h-2.7zM1449.9 1166.4h2.7v13.5h-2.7zM1449.9 1188.0h2.7v2.7h-2.7zM1452.6 1034.1h2.7v13.5h-2.7zM1452.6 1077.3h2.7v110.7h-2.7zM1455.3 1020.6h2.7v5.4h-2.7zM1455.3 1055.7h2.7v108.0h-2.7zM1458.0 1055.7h2.7v13.5h-2.7zM1458.0 1093.5h2.7v140.4h-2.7zM1460.7 1093.5h2.7v140.4h-2.7zM1463.4 1069.2h2.7v97.2h-2.7zM1466.1 1063.8h2.7v110.7h-2.7zM1468.8 1063.8h2.7v110.7h-2.7zM1471.5 1017.9h2.7v8.1h-2.7zM1471.5 1055.7h2.7v81.0h-2.7zM1474.2 1017.9h2.7v8.1h-2.7zM1476.9 1034.1h2.7v2.7h-2.7zM1479.6 1028.7h2.7v8.1h-2.7zM1482.3 1012.5h2.7v27.0h-2.7zM1485.0 993.6h2.7v37.8h-2.7zM1487.7 993.6h2.7v5.4h-2.7zM1487.7 1020.6h2.7v5.4h-2.7zM1487.7 1055.7h2.7v83.7h-2.7zM1490.4 912.6h2.7v86.4h-2.7zM1490.4 1020.6h2.7v5.4h-2.7zM1490.4 1066.5h2.7v13.5h-2.7zM1490.4 1104.3h2.7v35.1h-2.7zM1493.1 912.6h2.7v124.2h-2.7zM1493.1 1066.5h2.7v13.5h-2.7zM1493.1 1109.7h2.7v37.8h-2.7zM1495.8 969.3h2.7v72.9h-2.7zM1495.8 1055.7h2.7v8.1h-2.7zM1495.8 1093.5h2.7v5.4h-2.7zM1495.8 1109.7h2.7v170.1h-2.7zM1498.5 1017.9h2.7v21.6h-2.7zM1498.5 1085.4h2.7v194.4h-2.7zM1501.2 1044.9h2.7v5.4h-2.7zM1501.2 1066.5h2.7v108.0h-2.7zM1503.9 993.6h2.7v21.6h-2.7zM1506.6 961.2h2.7v59.4h-2.7zM1506.6 1050.3h2.7v13.5h-2.7zM1509.3 961.2h2.7v102.6h-2.7zM1509.3 1093.5h2.7v13.5h-2.7zM1509.3 1139.4h2.7v13.5h-2.7zM1512.0 1080.0h2.7v13.5h-2.7zM1512.0 1123.2h2.7v13.5h-2.7zM1514.7 1080.0h2.7v13.5h-2.7zM1514.7 1123.2h2.7v13.5h-2.7zM1514.7 1166.4h2.7v13.5h-2.7zM1514.7 1188.0h2.7v2.7h-2.7zM1517.4 1034.1h2.7v13.5h-2.7zM1517.4 1061.1h2.7v129.6h-2.7zM1520.1 974.7h2.7v43.2h-2.7zM1520.1 1034.1h2.7v99.9h-2.7zM1522.8 974.7h2.7v37.8h-2.7zM1522.8 1036.8h2.7v132.3h-2.7zM1525.5 1044.9h2.7v2.7h-2.7zM1525.5 1066.5h2.7v234.9h-2.7zM1528.2 1080.0h2.7v2.7h-2.7zM1528.2 1107.0h2.7v194.4h-2.7zM1530.9 1017.9h2.7v21.6h-2.7zM1530.9 1069.2h2.7v13.5h-2.7zM1530.9 1125.9h2.7v2.7h-2.7zM1530.9 1169.1h2.7v2.7h-2.7zM1530.9 1196.1h2.7v29.7h-2.7zM1533.6 1017.9h2.7v2.7h-2.7zM1533.6 1039.5h2.7v13.5h-2.7zM1533.6 1082.7h2.7v2.7h-2.7zM1536.3 990.9h2.7v29.7h-2.7zM1539.0 988.2h2.7v2.7h-2.7zM1539.0 1031.4h2.7v2.7h-2.7zM1541.7 988.2h2.7v2.7h-2.7zM1541.7 1031.4h2.7v13.5h-2.7zM1541.7 1077.3h2.7v13.5h-2.7zM1541.7 1120.5h2.7v10.8h-2.7zM1544.4 1050.3h2.7v2.7h-2.7zM1544.4 1077.3h2.7v13.5h-2.7zM1544.4 1120.5h2.7v13.5h-2.7zM1547.1 1017.9h2.7v13.5h-2.7zM1547.1 1063.8h2.7v13.5h-2.7zM1547.1 1107.0h2.7v13.5h-2.7zM1549.8 1107.0h2.7v13.5h-2.7zM1549.8 1150.2h2.7v13.5h-2.7zM1549.8 1193.4h2.7v16.2h-2.7zM1552.5 1093.5h2.7v8.1h-2.7zM1552.5 1112.4h2.7v97.2h-2.7zM1555.2 1034.1h2.7v59.4h-2.7zM1555.2 1112.4h2.7v97.2h-2.7zM1557.9 1009.8h2.7v83.7h-2.7zM1557.9 1112.4h2.7v13.5h-2.7zM1560.6 996.3h2.7v91.8h-2.7zM1563.3 996.3h2.7v102.6h-2.7zM1563.3 1150.2h2.7v29.7h-2.7zM1566.0 1074.6h2.7v24.3h-2.7zM1566.0 1109.7h2.7v10.8h-2.7zM1566.0 1150.2h2.7v13.5h-2.7zM1568.7 1074.6h2.7v56.7h-2.7zM1571.4 1082.7h2.7v5.4h-2.7zM1574.1 1080.0h2.7v8.1h-2.7zM1574.1 1117.8h2.7v13.5h-2.7zM1574.1 1150.2h2.7v8.1h-2.7zM1576.8 1080.0h2.7v148.5h-2.7zM1579.5 1071.9h2.7v156.6h-2.7zM1582.2 1031.4h2.7v5.4h-2.7zM1582.2 1050.3h2.7v121.5h-2.7zM1584.9 1031.4h2.7v5.4h-2.7zM1584.9 1069.2h2.7v51.3h-2.7zM1587.6 993.6h2.7v51.3h-2.7zM1587.6 1074.6h2.7v45.9h-2.7zM1590.3 980.1h2.7v72.9h-2.7zM1593.0 980.1h2.7v102.6h-2.7zM1595.7 1028.7h2.7v29.7h-2.7zM1595.7 1082.7h2.7v8.1h-2.7zM1598.4 993.6h2.7v27.0h-2.7zM1598.4 1039.5h2.7v10.8h-2.7zM1598.4 1082.7h2.7v13.5h-2.7zM1598.4 1117.8h2.7v89.1h-2.7zM1601.1 993.6h2.7v27.0h-2.7zM1601.1 1039.5h2.7v10.8h-2.7zM1601.1 1082.7h2.7v302.4h-2.7zM1603.8 1034.1h2.7v18.9h-2.7zM1603.8 1082.7h2.7v13.5h-2.7zM1603.8 1125.9h2.7v259.2h-2.7zM1606.5 1034.1h2.7v51.3h-2.7zM1606.5 1125.9h2.7v259.2h-2.7zM1609.2 1012.5h2.7v35.1h-2.7zM1609.2 1071.9h2.7v13.5h-2.7zM1609.2 1115.1h2.7v270.0h-2.7zM1611.9 993.6h2.7v48.6h-2.7zM1611.9 1080.0h2.7v13.5h-2.7zM1611.9 1123.2h2.7v72.9h-2.7zM1614.6 990.9h2.7v27.0h-2.7zM1617.3 990.9h2.7v32.4h-2.7zM1620.0 1001.7h2.7v35.1h-2.7zM1622.7 1017.9h2.7v37.8h-2.7zM1622.7 1101.6h2.7v13.5h-2.7zM1622.7 1147.5h2.7v8.1h-2.7zM1625.4 1031.4h2.7v24.3h-2.7zM1625.4 1117.8h2.7v126.9h-2.7zM1628.1 1088.1h2.7v10.8h-2.7zM1628.1 1117.8h2.7v126.9h-2.7zM1630.8 1080.0h2.7v13.5h-2.7zM1630.8 1123.2h2.7v13.5h-2.7zM1633.5 1036.8h2.7v13.5h-2.7zM1633.5 1080.0h2.7v5.4h-2.7zM1636.2 1039.5h2.7v5.4h-2.7zM1638.9 1039.5h2.7v5.4h-2.7zM1638.9 1115.1h2.7v43.2h-2.7zM1641.6 1115.1h2.7v70.2h-2.7zM1644.3 1082.7h2.7v102.6h-2.7zM1647.0 1050.3h2.7v13.5h-2.7zM1647.0 1093.5h2.7v45.9h-2.7zM1649.7 1012.5h2.7v18.9h-2.7zM1649.7 1050.3h2.7v13.5h-2.7zM1652.4 1012.5h2.7v51.3h-2.7zM1655.1 1015.2h2.7v75.6h-2.7zM1657.8 1028.7h2.7v24.3h-2.7zM1657.8 1085.4h2.7v5.4h-2.7zM1660.5 1039.5h2.7v13.5h-2.7zM1663.2 1039.5h2.7v16.2h-2.7zM1665.9 1028.7h2.7v13.5h-2.7zM1665.9 1047.6h2.7v72.9h-2.7zM1668.6 1028.7h2.7v2.7h-2.7zM1668.6 1055.7h2.7v126.9h-2.7zM1671.3 1115.1h2.7v67.5h-2.7zM1674.0 1120.5h2.7v43.2h-2.7zM1676.7 1074.6h2.7v97.2h-2.7zM1679.4 999.0h2.7v16.2h-2.7zM1679.4 1050.3h2.7v13.5h-2.7zM1679.4 1093.5h2.7v13.5h-2.7zM1679.4 1136.7h2.7v13.5h-2.7zM1682.1 985.5h2.7v78.3h-2.7zM1684.8 985.5h2.7v54.0h-2.7zM1684.8 1061.1h2.7v13.5h-2.7zM1687.5 1007.1h2.7v27.0h-2.7zM1687.5 1104.3h2.7v13.5h-2.7zM1690.2 1042.2h2.7v13.5h-2.7zM1690.2 1080.0h2.7v37.8h-2.7zM1692.9 1058.4h2.7v13.5h-2.7zM1695.6 1012.5h2.7v16.2h-2.7zM1695.6 1058.4h2.7v13.5h-2.7zM1695.6 1190.7h2.7v16.2h-2.7zM1698.3 1044.9h2.7v13.5h-2.7zM1698.3 1088.1h2.7v13.5h-2.7zM1698.3 1190.7h2.7v105.3h-2.7zM1701.0 1044.9h2.7v13.5h-2.7zM1701.0 1085.4h2.7v210.6h-2.7zM1703.7 1044.9h2.7v91.8h-2.7zM1706.4 1044.9h2.7v89.1h-2.7zM1709.1 1061.1h2.7v72.9h-2.7zM1711.8 1061.1h2.7v37.8h-2.7zM1714.5 1047.6h2.7v62.1h-2.7zM1717.2 1017.9h2.7v8.1h-2.7zM1717.2 1047.6h2.7v13.5h-2.7zM1717.2 1077.3h2.7v32.4h-2.7zM1719.9 1017.9h2.7v5.4h-2.7zM1719.9 1055.7h2.7v5.4h-2.7zM1722.6 1061.1h2.7v8.1h-2.7zM1722.6 1082.7h2.7v37.8h-2.7zM1725.3 1107.0h2.7v13.5h-2.7zM1730.7 1080.0h2.7v13.5h-2.7zM1730.7 1125.9h2.7v13.5h-2.7zM1730.7 1169.1h2.7v13.5h-2.7zM1733.4 1077.3h2.7v126.9h-2.7zM1736.1 1071.9h2.7v102.6h-2.7zM1738.8 1082.7h2.7v13.5h-2.7zM1738.8 1109.7h2.7v105.3h-2.7zM1741.5 1039.5h2.7v13.5h-2.7zM1741.5 1082.7h2.7v13.5h-2.7zM1741.5 1128.6h2.7v13.5h-2.7zM1741.5 1163.7h2.7v118.8h-2.7zM1744.2 1028.7h2.7v75.6h-2.7zM1744.2 1136.7h2.7v5.4h-2.7zM1744.2 1163.7h2.7v221.4h-2.7zM1746.9 1093.5h2.7v13.5h-2.7zM1746.9 1136.7h2.7v248.4h-2.7zM1749.6 1007.1h2.7v24.3h-2.7zM1749.6 1050.3h2.7v13.5h-2.7zM1749.6 1093.5h2.7v13.5h-2.7zM1749.6 1123.2h2.7v137.7h-2.7zM1752.3 1004.4h2.7v27.0h-2.7zM1752.3 1050.3h2.7v18.9h-2.7zM1755.0 993.6h2.7v45.9h-2.7zM1757.7 993.6h2.7v51.3h-2.7zM1760.4 1004.4h2.7v56.7h-2.7zM1760.4 1158.3h2.7v5.4h-2.7zM1763.1 1042.2h2.7v18.9h-2.7zM1765.8 982.8h2.7v48.6h-2.7zM1765.8 1039.5h2.7v13.5h-2.7zM1765.8 1082.7h2.7v13.5h-2.7zM1765.8 1125.9h2.7v13.5h-2.7zM1765.8 1171.8h2.7v13.5h-2.7zM1768.5 982.8h2.7v48.6h-2.7zM1768.5 1085.4h2.7v102.6h-2.7zM1771.2 1071.9h2.7v2.7h-2.7zM1771.2 1104.3h2.7v105.3h-2.7zM1773.9 1026.0h2.7v40.5h-2.7zM1773.9 1104.3h2.7v105.3h-2.7zM1776.6 1026.0h2.7v40.5h-2.7zM1776.6 1080.0h2.7v48.6h-2.7zM1779.3 1023.3h2.7v13.5h-2.7zM1779.3 1080.0h2.7v48.6h-2.7zM1782.0 1023.3h2.7v13.5h-2.7zM1782.0 1066.5h2.7v8.1h-2.7zM1782.0 1080.0h2.7v172.8h-2.7zM1784.7 1044.9h2.7v10.8h-2.7zM1784.7 1085.4h2.7v13.5h-2.7zM1784.7 1128.6h2.7v189.0h-2.7zM1787.4 999.0h2.7v13.5h-2.7zM1787.4 1042.2h2.7v13.5h-2.7zM1787.4 1169.1h2.7v148.5h-2.7zM1790.1 999.0h2.7v29.7h-2.7zM1790.1 1058.4h2.7v13.5h-2.7zM1792.8 1001.7h2.7v10.8h-2.7zM1795.5 988.2h2.7v24.3h-2.7zM1795.5 1042.2h2.7v13.5h-2.7zM1798.2 988.2h2.7v72.9h-2.7zM1800.9 1004.4h2.7v48.6h-2.7zM1800.9 1093.5h2.7v2.7h-2.7zM1803.6 1082.7h2.7v13.5h-2.7zM1806.3 1069.2h2.7v51.3h-2.7zM1809.0 1085.4h2.7v56.7h-2.7zM1811.7 1044.9h2.7v8.1h-2.7zM1811.7 1085.4h2.7v81.0h-2.7zM1814.4 1061.1h2.7v105.3h-2.7zM1817.1 1058.4h2.7v10.8h-2.7zM1817.1 1088.1h2.7v116.1h-2.7zM1819.8 1063.8h2.7v5.4h-2.7zM1819.8 1088.1h2.7v151.2h-2.7zM1822.5 1088.1h2.7v151.2h-2.7zM1825.2 1026.0h2.7v13.5h-2.7zM1825.2 1069.2h2.7v75.6h-2.7zM1827.9 996.3h2.7v43.2h-2.7zM1827.9 1069.2h2.7v5.4h-2.7zM1827.9 1093.5h2.7v51.3h-2.7zM1830.6 996.3h2.7v29.7h-2.7zM1833.3 1015.2h2.7v8.1h-2.7zM1833.3 1053.0h2.7v13.5h-2.7zM1833.3 1080.0h2.7v243.0h-2.7zM1836.0 1055.7h2.7v13.5h-2.7zM1836.0 1098.9h2.7v286.2h-2.7zM1838.7 1112.4h2.7v272.7h-2.7zM1841.4 1053.0h2.7v32.4h-2.7zM1841.4 1136.7h2.7v51.3h-2.7zM1844.1 1023.3h2.7v62.1h-2.7zM1844.1 1096.2h2.7v13.5h-2.7zM1844.1 1139.4h2.7v13.5h-2.7zM1844.1 1185.3h2.7v2.7h-2.7zM1846.8 1023.3h2.7v86.4h-2.7zM1849.5 1061.1h2.7v32.4h-2.7zM1852.2 974.7h2.7v89.1h-2.7zM1852.2 1077.3h2.7v13.5h-2.7zM1854.9 958.5h2.7v64.8h-2.7zM1854.9 1042.2h2.7v13.5h-2.7zM1857.6 958.5h2.7v54.0h-2.7zM1857.6 1042.2h2.7v13.5h-2.7zM1857.6 1071.9h2.7v27.0h-2.7zM1860.3 1039.5h2.7v13.5h-2.7zM1860.3 1082.7h2.7v13.5h-2.7zM1863.0 999.0h2.7v8.1h-2.7zM1863.0 1039.5h2.7v13.5h-2.7zM1865.7 999.0h2.7v5.4h-2.7zM1865.7 1012.5h2.7v13.5h-2.7zM1865.7 1058.4h2.7v13.5h-2.7zM1868.4 1058.4h2.7v13.5h-2.7zM1868.4 1101.6h2.7v8.1h-2.7zM1871.1 1044.9h2.7v8.1h-2.7zM1871.1 1082.7h2.7v13.5h-2.7zM1873.8 1039.5h2.7v13.5h-2.7zM1873.8 1082.7h2.7v13.5h-2.7zM1876.5 1034.1h2.7v45.9h-2.7zM1876.5 1109.7h2.7v13.5h-2.7zM1879.2 1071.9h2.7v8.1h-2.7zM1879.2 1109.7h2.7v51.3h-2.7zM1881.9 1071.9h2.7v59.4h-2.7zM1884.6 1071.9h2.7v202.5h-2.7zM1887.3 1101.6h2.7v13.5h-2.7zM1887.3 1144.8h2.7v13.5h-2.7zM1887.3 1174.5h2.7v129.6h-2.7zM1890.0 1190.7h2.7v113.4h-2.7zM1892.7 1047.6h2.7v10.8h-2.7zM1892.7 1090.8h2.7v10.8h-2.7zM1892.7 1134.0h2.7v10.8h-2.7zM1895.4 1009.8h2.7v2.7h-2.7zM1895.4 1047.6h2.7v13.5h-2.7zM1895.4 1090.8h2.7v13.5h-2.7zM1898.1 993.6h2.7v56.7h-2.7zM1900.8 990.9h2.7v59.4h-2.7zM1900.8 1071.9h2.7v5.4h-2.7zM1903.5 990.9h2.7v37.8h-2.7zM1903.5 1034.1h2.7v13.5h-2.7zM1903.5 1166.4h2.7v151.2h-2.7zM1906.2 1077.3h2.7v5.4h-2.7zM1906.2 1123.2h2.7v13.5h-2.7zM1906.2 1166.4h2.7v175.5h-2.7zM1908.9 1104.3h2.7v237.6h-2.7zM1911.6 1015.2h2.7v54.0h-2.7zM1911.6 1077.3h2.7v13.5h-2.7zM1911.6 1104.3h2.7v27.0h-2.7zM1914.3 1004.4h2.7v62.1h-2.7zM1914.3 1090.8h2.7v37.8h-2.7zM1917.0 1004.4h2.7v16.2h-2.7zM1919.7 1015.2h2.7v5.4h-2.7z"/><path fill="#ff0000" d="M332.1 648.0h2.7v29.7h-2.7zM332.1 691.2h2.7v32.4h-2.7zM332.1 737.1h2.7v29.7h-2.7zM332.1 780.3h2.7v29.7h-2.7zM332.1 823.5h2.7v32.4h-2.7zM332.1 869.4h2.7v29.7h-2.7zM332.1 912.6h2.7v29.7h-2.7zM334.8 645.3h2.7v32.4h-2.7zM334.8 688.5h2.7v35.1h-2.7zM334.8 734.4h2.7v32.4h-2.7zM334.8 777.6h2.7v32.4h-2.7zM334.8 823.5h2.7v32.4h-2.7zM334.8 869.4h2.7v29.7h-2.7zM334.8 912.6h2.7v18.9h-2.7zM337.5 645.3h2.7v162.0h-2.7zM340.2 672.3h2.7v32.4h-2.7zM340.2 715.5h2.7v32.4h-2.7zM340.2 761.4h2.7v29.7h-2.7zM340.2 801.9h2.7v8.1h-2.7zM342.9 672.3h2.7v29.7h-2.7zM342.9 715.5h2.7v32.4h-2.7zM342.9 761.4h2.7v48.6h-2.7zM345.6 777.6h2.7v32.4h-2.7zM348.3 769.5h2.7v10.8h-2.7zM348.3 788.4h2.7v21.6h-2.7zM351.0 769.5h2.7v37.8h-2.7zM351.0 810.0h2.7v13.5h-2.7zM353.7 772.2h2.7v24.3h-2.7zM353.7 807.3h2.7v16.2h-2.7zM356.4 807.3h2.7v16.2h-2.7zM359.1 807.3h2.7v10.8h-2.7zM359.1 820.8h2.7v8.1h-2.7zM361.8 820.8h2.7v13.5h-2.7zM364.5 820.8h2.7v27.0h-2.7zM364.5 861.3h2.7v10.8h-2.7zM367.2 828.9h2.7v18.9h-2.7zM367.2 850.5h2.7v21.6h-2.7zM369.9 828.9h2.7v10.8h-2.7zM369.9 850.5h2.7v18.9h-2.7zM372.6 826.2h2.7v13.5h-2.7zM375.3 826.2h2.7v13.5h-2.7zM378.0 826.2h2.7v10.8h-2.7zM378.0 850.5h2.7v5.4h-2.7zM380.7 850.5h2.7v21.6h-2.7zM383.4 850.5h2.7v32.4h-2.7zM386.1 866.7h2.7v16.2h-2.7zM386.1 896.4h2.7v16.2h-2.7zM388.8 896.4h2.7v27.0h-2.7zM391.5 907.2h2.7v18.9h-2.7zM394.2 918.0h2.7v8.1h-2.7zM396.9 931.5h2.7v32.4h-2.7zM399.6 931.5h2.7v32.4h-2.7zM402.3 966.6h2.7v18.9h-2.7zM405.0 966.6h2.7v32.4h-2.7zM405.0 1012.5h2.7v29.7h-2.7zM405.0 1055.7h2.7v29.7h-2.7zM407.7 980.1h2.7v18.9h-2.7zM407.7 1012.5h2.7v29.7h-2.7zM407.7 1044.9h2.7v40.5h-2.7zM410.4 1039.5h2.7v27.0h-2.7zM413.1 1039.5h2.7v10.8h-2.7zM413.1 1058.4h2.7v29.7h-2.7zM413.1 1101.6h2.7v27.0h-2.7zM415.8 980.1h2.7v37.8h-2.7zM415.8 1031.4h2.7v97.2h-2.7zM418.5 980.1h2.7v37.8h-2.7zM418.5 1026.0h2.7v35.1h-2.7zM418.5 1074.6h2.7v32.4h-2.7zM421.2 982.8h2.7v29.7h-2.7zM421.2 1026.0h2.7v18.9h-2.7zM423.9 963.9h2.7v16.2h-2.7zM423.9 985.5h2.7v29.7h-2.7zM423.9 1028.7h2.7v16.2h-2.7zM426.6 963.9h2.7v70.2h-2.7zM429.3 974.7h2.7v59.4h-2.7zM432.0 990.9h2.7v43.2h-2.7zM432.0 1036.8h2.7v24.3h-2.7zM434.7 996.3h2.7v27.0h-2.7zM434.7 1036.8h2.7v29.7h-2.7zM434.7 1077.3h2.7v18.9h-2.7zM437.4 1004.4h2.7v13.5h-2.7zM437.4 1031.4h2.7v35.1h-2.7zM437.4 1074.6h2.7v21.6h-2.7zM440.1 988.2h2.7v29.7h-2.7zM440.1 1031.4h2.7v29.7h-2.7zM440.1 1074.6h2.7v8.1h-2.7zM442.8 901.8h2.7v29.7h-2.7zM442.8 945.0h2.7v29.7h-2.7zM442.8 988.2h2.7v21.6h-2.7zM445.5 901.8h2.7v72.9h-2.7zM448.2 899.1h2.7v18.9h-2.7zM448.2 923.4h2.7v37.8h-2.7zM450.9 899.1h2.7v18.9h-2.7zM450.9 931.5h2.7v32.4h-2.7zM450.9 977.4h2.7v29.7h-2.7zM453.6 931.5h2.7v32.4h-2.7zM453.6 977.4h2.7v29.7h-2.7zM453.6 1020.6h2.7v29.7h-2.7zM453.6 1063.8h2.7v29.7h-2.7zM453.6 1107.0h2.7v35.1h-2.7zM456.3 1020.6h2.7v35.1h-2.7zM456.3 1063.8h2.7v35.1h-2.7zM456.3 1107.0h2.7v35.1h-2.7zM459.0 1023.3h2.7v32.4h-2.7zM459.0 1069.2h2.7v29.7h-2.7zM459.0 1112.4h2.7v13.5h-2.7zM461.7 1023.3h2.7v29.7h-2.7zM461.7 1066.5h2.7v29.7h-2.7zM464.4 1036.8h2.7v16.2h-2.7zM464.4 1066.5h2.7v29.7h-2.7zM464.4 1109.7h2.7v27.0h-2.7zM467.1 1007.1h2.7v18.9h-2.7zM467.1 1039.5h2.7v32.4h-2.7zM467.1 1085.4h2.7v51.3h-2.7zM469.8 912.6h2.7v70.2h-2.7zM469.8 996.3h2.7v29.7h-2.7zM469.8 1039.5h2.7v32.4h-2.7zM469.8 1085.4h2.7v29.7h-2.7zM472.5 912.6h2.7v99.9h-2.7zM472.5 1023.3h2.7v32.4h-2.7zM472.5 1069.2h2.7v29.7h-2.7zM472.5 1104.3h2.7v37.8h-2.7zM475.2 958.5h2.7v8.1h-2.7zM475.2 972.0h2.7v170.1h-2.7zM477.9 972.0h2.7v75.6h-2.7zM477.9 1053.0h2.7v32.4h-2.7zM477.9 1098.9h2.7v10.8h-2.7zM480.6 996.3h2.7v29.7h-2.7zM480.6 1039.5h2.7v29.7h-2.7zM483.3 1042.2h2.7v27.0h-2.7zM483.3 1080.0h2.7v35.1h-2.7zM486.0 977.4h2.7v29.7h-2.7zM486.0 1020.6h2.7v29.7h-2.7zM486.0 1063.8h2.7v51.3h-2.7zM488.7 977.4h2.7v29.7h-2.7zM488.7 1020.6h2.7v29.7h-2.7zM488.7 1063.8h2.7v21.6h-2.7zM491.4 996.3h2.7v16.2h-2.7zM494.1 963.9h2.7v24.3h-2.7zM494.1 990.9h2.7v29.7h-2.7zM496.8 963.9h2.7v24.3h-2.7zM496.8 990.9h2.7v40.5h-2.7zM496.8 1044.9h2.7v29.7h-2.7zM496.8 1088.1h2.7v32.4h-2.7zM496.8 1134.0h2.7v29.7h-2.7zM496.8 1171.8h2.7v21.6h-2.7zM499.5 1015.2h2.7v16.2h-2.7zM499.5 1039.5h2.7v35.1h-2.7zM499.5 1082.7h2.7v37.8h-2.7zM499.5 1128.6h2.7v35.1h-2.7zM499.5 1171.8h2.7v21.6h-2.7zM502.2 966.6h2.7v16.2h-2.7zM502.2 996.3h2.7v29.7h-2.7zM502.2 1039.5h2.7v29.7h-2.7zM502.2 1082.7h2.7v32.4h-2.7zM502.2 1128.6h2.7v27.0h-2.7zM504.9 950.4h2.7v32.4h-2.7zM504.9 996.3h2.7v29.7h-2.7zM507.6 907.2h2.7v29.7h-2.7zM507.6 950.4h2.7v21.6h-2.7zM510.3 907.2h2.7v35.1h-2.7zM513.0 926.1h2.7v29.7h-2.7zM513.0 969.3h2.7v32.4h-2.7zM513.0 1015.2h2.7v24.3h-2.7zM515.7 936.9h2.7v18.9h-2.7zM515.7 969.3h2.7v32.4h-2.7zM515.7 1015.2h2.7v29.7h-2.7zM515.7 1058.4h2.7v29.7h-2.7zM515.7 1101.6h2.7v43.2h-2.7zM518.4 1034.1h2.7v10.8h-2.7zM518.4 1058.4h2.7v29.7h-2.7zM518.4 1101.6h2.7v43.2h-2.7zM521.1 1104.3h2.7v32.4h-2.7zM521.1 1147.5h2.7v32.4h-2.7zM521.1 1193.4h2.7v18.9h-2.7zM523.8 963.9h2.7v5.4h-2.7zM523.8 974.7h2.7v29.7h-2.7zM523.8 1017.9h2.7v32.4h-2.7zM523.8 1063.8h2.7v29.7h-2.7zM523.8 1107.0h2.7v29.7h-2.7zM523.8 1147.5h2.7v32.4h-2.7zM523.8 1193.4h2.7v18.9h-2.7zM526.5 963.9h2.7v40.5h-2.7zM526.5 1017.9h2.7v32.4h-2.7zM526.5 1063.8h2.7v29.7h-2.7zM526.5 1107.0h2.7v29.7h-2.7zM529.2 907.2h2.7v43.2h-2.7zM529.2 963.9h2.7v18.9h-2.7zM531.9 907.2h2.7v75.6h-2.7zM531.9 996.3h2.7v29.7h-2.7zM531.9 1039.5h2.7v10.8h-2.7zM534.6 950.4h2.7v32.4h-2.7zM534.6 996.3h2.7v54.0h-2.7zM537.3 974.7h2.7v5.4h-2.7zM537.3 982.8h2.7v29.7h-2.7zM537.3 1026.0h2.7v21.6h-2.7zM540.0 974.7h2.7v37.8h-2.7zM542.7 969.3h2.7v27.0h-2.7zM545.4 969.3h2.7v29.7h-2.7zM545.4 1012.5h2.7v29.7h-2.7zM548.1 988.2h2.7v54.0h-2.7zM550.8 993.6h2.7v43.2h-2.7zM550.8 1044.9h2.7v18.9h-2.7zM553.5 920.7h2.7v70.2h-2.7zM553.5 1004.4h2.7v32.4h-2.7zM553.5 1044.9h2.7v18.9h-2.7zM556.2 920.7h2.7v102.6h-2.7zM556.2 1031.4h2.7v29.7h-2.7zM556.2 1074.6h2.7v24.3h-2.7zM558.9 988.2h2.7v29.7h-2.7zM558.9 1031.4h2.7v40.5h-2.7zM558.9 1074.6h2.7v24.3h-2.7zM561.6 969.3h2.7v21.6h-2.7zM561.6 999.0h2.7v29.7h-2.7zM561.6 1042.2h2.7v29.7h-2.7zM564.3 969.3h2.7v21.6h-2.7zM564.3 999.0h2.7v37.8h-2.7zM564.3 1050.3h2.7v43.2h-2.7zM567.0 950.4h2.7v13.5h-2.7zM567.0 974.7h2.7v29.7h-2.7zM567.0 1007.1h2.7v86.4h-2.7zM569.7 950.4h2.7v54.0h-2.7zM569.7 1017.9h2.7v32.4h-2.7zM572.4 934.2h2.7v40.5h-2.7zM575.1 934.2h2.7v24.3h-2.7zM575.1 961.2h2.7v16.2h-2.7zM577.8 961.2h2.7v29.7h-2.7zM580.5 972.0h2.7v18.9h-2.7zM580.5 1004.4h2.7v29.7h-2.7zM583.2 950.4h2.7v29.7h-2.7zM583.2 993.6h2.7v40.5h-2.7zM585.9 950.4h2.7v32.4h-2.7zM585.9 993.6h2.7v32.4h-2.7zM588.6 966.6h2.7v16.2h-2.7zM588.6 985.5h2.7v40.5h-2.7zM591.3 985.5h2.7v21.6h-2.7zM591.3 1012.5h2.7v32.4h-2.7zM591.3 1058.4h2.7v18.9h-2.7zM594.0 1012.5h2.7v32.4h-2.7zM594.0 1058.4h2.7v29.7h-2.7zM594.0 1098.9h2.7v32.4h-2.7zM596.7 982.8h2.7v16.2h-2.7zM596.7 1012.5h2.7v29.7h-2.7zM596.7 1055.7h2.7v32.4h-2.7zM596.7 1098.9h2.7v32.4h-2.7zM599.4 969.3h2.7v29.7h-2.7zM599.4 1012.5h2.7v29.7h-2.7zM599.4 1055.7h2.7v29.7h-2.7zM602.1 934.2h2.7v21.6h-2.7zM602.1 961.2h2.7v32.4h-2.7zM604.8 934.2h2.7v21.6h-2.7zM604.8 961.2h2.7v32.4h-2.7zM604.8 1007.1h2.7v29.7h-2.7zM604.8 1050.3h2.7v29.7h-2.7zM604.8 1093.5h2.7v29.7h-2.7zM604.8 1136.7h2.7v32.4h-2.7zM607.5 1007.1h2.7v29.7h-2.7zM607.5 1050.3h2.7v29.7h-2.7zM607.5 1093.5h2.7v29.7h-2.7zM607.5 1136.7h2.7v32.4h-2.7zM607.5 1182.6h2.7v35.1h-2.7zM607.5 1225.8h2.7v37.8h-2.7zM610.2 990.9h2.7v8.1h-2.7zM610.2 1012.5h2.7v29.7h-2.7zM610.2 1055.7h2.7v32.4h-2.7zM610.2 1101.6h2.7v29.7h-2.7zM610.2 1144.8h2.7v29.7h-2.7zM610.2 1182.6h2.7v35.1h-2.7zM610.2 1225.8h2.7v37.8h-2.7zM612.9 969.3h2.7v29.7h-2.7zM612.9 1012.5h2.7v29.7h-2.7zM612.9 1055.7h2.7v32.4h-2.7zM612.9 1101.6h2.7v29.7h-2.7zM612.9 1144.8h2.7v29.7h-2.7zM615.6 969.3h2.7v37.8h-2.7zM618.3 977.4h2.7v29.7h-2.7zM618.3 1020.6h2.7v32.4h-2.7zM621.0 1020.6h2.7v35.1h-2.7zM621.0 1066.5h2.7v32.4h-2.7zM623.7 942.3h2.7v35.1h-2.7zM623.7 980.1h2.7v29.7h-2.7zM623.7 1023.3h2.7v32.4h-2.7zM623.7 1066.5h2.7v32.4h-2.7zM626.4 942.3h2.7v67.5h-2.7zM626.4 1012.5h2.7v35.1h-2.7zM629.1 972.0h2.7v27.0h-2.7zM629.1 1009.8h2.7v32.4h-2.7zM631.8 958.5h2.7v83.7h-2.7zM634.5 958.5h2.7v56.7h-2.7zM634.5 1023.3h2.7v35.1h-2.7zM637.2 958.5h2.7v24.3h-2.7zM637.2 985.5h2.7v29.7h-2.7zM637.2 1023.3h2.7v35.1h-2.7zM639.9 958.5h2.7v56.7h-2.7zM642.6 896.4h2.7v110.7h-2.7zM645.3 896.4h2.7v86.4h-2.7zM645.3 996.3h2.7v32.4h-2.7zM645.3 1042.2h2.7v40.5h-2.7zM645.3 1085.4h2.7v24.3h-2.7zM648.0 953.1h2.7v40.5h-2.7zM648.0 996.3h2.7v43.2h-2.7zM648.0 1042.2h2.7v40.5h-2.7zM648.0 1085.4h2.7v24.3h-2.7zM650.7 953.1h2.7v45.9h-2.7zM650.7 1007.1h2.7v32.4h-2.7zM653.4 945.0h2.7v54.0h-2.7zM656.1 945.0h2.7v35.1h-2.7zM656.1 985.5h2.7v29.7h-2.7zM656.1 1028.7h2.7v29.7h-2.7zM658.8 985.5h2.7v29.7h-2.7zM658.8 1028.7h2.7v32.4h-2.7zM658.8 1074.6h2.7v29.7h-2.7zM661.5 1053.0h2.7v8.1h-2.7zM661.5 1071.9h2.7v32.4h-2.7zM664.2 1034.1h2.7v18.9h-2.7zM664.2 1066.5h2.7v29.7h-2.7zM666.9 955.8h2.7v51.3h-2.7zM666.9 1020.6h2.7v32.4h-2.7zM666.9 1066.5h2.7v29.7h-2.7zM669.6 955.8h2.7v99.9h-2.7zM672.3 977.4h2.7v5.4h-2.7zM672.3 996.3h2.7v29.7h-2.7zM672.3 1039.5h2.7v32.4h-2.7zM672.3 1085.4h2.7v29.7h-2.7zM675.0 1050.3h2.7v21.6h-2.7zM675.0 1085.4h2.7v29.7h-2.7zM677.7 1023.3h2.7v32.4h-2.7zM677.7 1069.2h2.7v29.7h-2.7zM680.4 939.6h2.7v27.0h-2.7zM680.4 980.1h2.7v29.7h-2.7zM680.4 1023.3h2.7v32.4h-2.7zM680.4 1069.2h2.7v24.3h-2.7zM683.1 939.6h2.7v97.2h-2.7zM683.1 1050.3h2.7v27.0h-2.7zM685.8 945.0h2.7v5.4h-2.7zM685.8 963.9h2.7v29.7h-2.7zM685.8 1007.1h2.7v29.7h-2.7zM685.8 1050.3h2.7v32.4h-2.7zM685.8 1096.2h2.7v29.7h-2.7zM685.8 1139.4h2.7v32.4h-2.7zM685.8 1182.6h2.7v35.1h-2.7zM688.5 1071.9h2.7v13.5h-2.7zM688.5 1096.2h2.7v32.4h-2.7zM688.5 1139.4h2.7v32.4h-2.7zM688.5 1182.6h2.7v35.1h-2.7zM691.2 1034.1h2.7v8.1h-2.7zM691.2 1055.7h2.7v29.7h-2.7zM691.2 1098.9h2.7v29.7h-2.7zM691.2 1142.1h2.7v27.0h-2.7zM693.9 1012.5h2.7v29.7h-2.7zM693.9 1055.7h2.7v29.7h-2.7zM696.6 1012.5h2.7v54.0h-2.7zM696.6 1080.0h2.7v29.7h-2.7zM696.6 1123.2h2.7v29.7h-2.7zM696.6 1166.4h2.7v10.8h-2.7zM699.3 1036.8h2.7v29.7h-2.7zM699.3 1080.0h2.7v29.7h-2.7zM699.3 1123.2h2.7v29.7h-2.7zM699.3 1166.4h2.7v32.4h-2.7zM699.3 1212.3h2.7v37.8h-2.7zM699.3 1255.5h2.7v40.5h-2.7zM702.0 1044.9h2.7v29.7h-2.7zM702.0 1088.1h2.7v32.4h-2.7zM702.0 1134.0h2.7v29.7h-2.7zM702.0 1171.8h2.7v35.1h-2.7zM702.0 1212.3h2.7v37.8h-2.7zM702.0 1255.5h2.7v40.5h-2.7zM704.7 955.8h2.7v32.4h-2.7zM704.7 1001.7h2.7v29.7h-2.7zM704.7 1044.9h2.7v29.7h-2.7zM704.7 1088.1h2.7v32.4h-2.7zM704.7 1134.0h2.7v29.7h-2.7zM704.7 1177.2h2.7v29.7h-2.7zM707.4 955.8h2.7v35.1h-2.7zM707.4 1001.7h2.7v32.4h-2.7zM707.4 1047.6h2.7v29.7h-2.7zM707.4 1090.8h2.7v32.4h-2.7zM707.4 1136.7h2.7v29.7h-2.7zM710.1 963.9h2.7v27.0h-2.7zM710.1 1004.4h2.7v29.7h-2.7zM710.1 1047.6h2.7v29.7h-2.7zM710.1 1090.8h2.7v32.4h-2.7zM710.1 1136.7h2.7v29.7h-2.7zM710.1 1179.9h2.7v29.7h-2.7zM710.1 1215.0h2.7v170.1h-2.7zM712.8 1036.8h2.7v24.3h-2.7zM712.8 1074.6h2.7v29.7h-2.7zM712.8 1117.8h2.7v32.4h-2.7zM712.8 1163.7h2.7v221.4h-2.7zM715.5 996.3h2.7v24.3h-2.7zM715.5 1034.1h2.7v27.0h-2.7zM715.5 1074.6h2.7v29.7h-2.7zM715.5 1117.8h2.7v32.4h-2.7zM715.5 1163.7h2.7v29.7h-2.7zM715.5 1206.9h2.7v13.5h-2.7zM718.2 950.4h2.7v70.2h-2.7zM718.2 1034.1h2.7v8.1h-2.7zM720.9 950.4h2.7v56.7h-2.7zM720.9 1020.6h2.7v29.7h-2.7zM723.6 988.2h2.7v18.9h-2.7zM723.6 1020.6h2.7v29.7h-2.7zM723.6 1063.8h2.7v29.7h-2.7zM723.6 1107.0h2.7v32.4h-2.7zM723.6 1152.9h2.7v29.7h-2.7zM726.3 1063.8h2.7v29.7h-2.7zM726.3 1107.0h2.7v32.4h-2.7zM726.3 1152.9h2.7v29.7h-2.7zM726.3 1196.1h2.7v29.7h-2.7zM726.3 1231.2h2.7v37.8h-2.7zM726.3 1274.4h2.7v21.6h-2.7zM729.0 1069.2h2.7v16.2h-2.7zM729.0 1098.9h2.7v29.7h-2.7zM729.0 1142.1h2.7v29.7h-2.7zM729.0 1185.3h2.7v40.5h-2.7zM729.0 1231.2h2.7v37.8h-2.7zM729.0 1274.4h2.7v21.6h-2.7zM731.7 1009.8h2.7v32.4h-2.7zM731.7 1055.7h2.7v29.7h-2.7zM731.7 1098.9h2.7v29.7h-2.7zM731.7 1142.1h2.7v29.7h-2.7zM731.7 1185.3h2.7v18.9h-2.7zM734.4 966.6h2.7v29.7h-2.7zM734.4 1009.8h2.7v32.4h-2.7zM734.4 1055.7h2.7v18.9h-2.7zM737.1 966.6h2.7v48.6h-2.7zM737.1 1028.7h2.7v32.4h-2.7zM739.8 990.9h2.7v24.3h-2.7zM739.8 1026.0h2.7v35.1h-2.7zM739.8 1069.2h2.7v35.1h-2.7zM742.5 899.1h2.7v24.3h-2.7zM742.5 926.1h2.7v86.4h-2.7zM742.5 1026.0h2.7v29.7h-2.7zM742.5 1069.2h2.7v35.1h-2.7zM745.2 899.1h2.7v24.3h-2.7zM745.2 926.1h2.7v78.3h-2.7zM745.2 1015.2h2.7v29.7h-2.7zM747.9 977.4h2.7v67.5h-2.7zM750.6 985.5h2.7v35.1h-2.7zM750.6 1026.0h2.7v48.6h-2.7zM753.3 1004.4h2.7v70.2h-2.7zM756.0 1001.7h2.7v29.7h-2.7zM758.7 1001.7h2.7v37.8h-2.7zM761.4 1009.8h2.7v29.7h-2.7zM761.4 1053.0h2.7v29.7h-2.7zM764.1 1053.0h2.7v35.1h-2.7zM766.8 980.1h2.7v21.6h-2.7zM766.8 1015.2h2.7v29.7h-2.7zM766.8 1058.4h2.7v29.7h-2.7zM769.5 931.5h2.7v143.1h-2.7zM769.5 1088.1h2.7v13.5h-2.7zM772.2 931.5h2.7v56.7h-2.7zM772.2 1001.7h2.7v29.7h-2.7zM772.2 1044.9h2.7v29.7h-2.7zM772.2 1088.1h2.7v29.7h-2.7zM772.2 1125.9h2.7v37.8h-2.7zM772.2 1169.1h2.7v37.8h-2.7zM772.2 1215.0h2.7v18.9h-2.7zM774.9 993.6h2.7v29.7h-2.7zM774.9 1036.8h2.7v32.4h-2.7zM774.9 1082.7h2.7v35.1h-2.7zM774.9 1125.9h2.7v37.8h-2.7zM774.9 1169.1h2.7v37.8h-2.7zM774.9 1215.0h2.7v18.9h-2.7zM777.6 958.5h2.7v21.6h-2.7zM777.6 985.5h2.7v37.8h-2.7zM777.6 1028.7h2.7v40.5h-2.7zM777.6 1082.7h2.7v29.7h-2.7zM780.3 958.5h2.7v21.6h-2.7zM780.3 985.5h2.7v29.7h-2.7zM780.3 1028.7h2.7v29.7h-2.7zM780.3 1071.9h2.7v32.4h-2.7zM780.3 1117.8h2.7v16.2h-2.7zM783.0 1023.3h2.7v37.8h-2.7zM783.0 1071.9h2.7v32.4h-2.7zM783.0 1117.8h2.7v16.2h-2.7zM785.7 1023.3h2.7v40.5h-2.7zM788.4 1044.9h2.7v18.9h-2.7zM788.4 1074.6h2.7v29.7h-2.7zM788.4 1117.8h2.7v24.3h-2.7zM791.1 1044.9h2.7v16.2h-2.7zM791.1 1074.6h2.7v29.7h-2.7zM791.1 1117.8h2.7v94.5h-2.7zM793.8 1004.4h2.7v29.7h-2.7zM793.8 1047.6h2.7v32.4h-2.7zM793.8 1093.5h2.7v29.7h-2.7zM793.8 1136.7h2.7v75.6h-2.7zM796.5 961.2h2.7v72.9h-2.7zM796.5 1047.6h2.7v32.4h-2.7zM796.5 1093.5h2.7v29.7h-2.7zM799.2 961.2h2.7v70.2h-2.7zM801.9 996.3h2.7v35.1h-2.7zM801.9 1042.2h2.7v8.1h-2.7zM804.6 996.3h2.7v43.2h-2.7zM804.6 1042.2h2.7v43.2h-2.7zM807.3 939.6h2.7v21.6h-2.7zM807.3 966.6h2.7v29.7h-2.7zM807.3 1009.8h2.7v29.7h-2.7zM807.3 1044.9h2.7v40.5h-2.7zM810.0 939.6h2.7v21.6h-2.7zM810.0 966.6h2.7v40.5h-2.7zM810.0 1020.6h2.7v29.7h-2.7zM810.0 1063.8h2.7v29.7h-2.7zM812.7 982.8h2.7v24.3h-2.7zM812.7 1020.6h2.7v29.7h-2.7zM812.7 1055.7h2.7v37.8h-2.7zM812.7 1098.9h2.7v40.5h-2.7zM815.4 969.3h2.7v29.7h-2.7zM815.4 1012.5h2.7v29.7h-2.7zM815.4 1055.7h2.7v29.7h-2.7zM815.4 1088.1h2.7v5.4h-2.7zM815.4 1098.9h2.7v40.5h-2.7zM818.1 969.3h2.7v29.7h-2.7zM818.1 1012.5h2.7v24.3h-2.7zM820.8 974.7h2.7v29.7h-2.7zM823.5 969.3h2.7v35.1h-2.7zM823.5 1012.5h2.7v21.6h-2.7zM826.2 915.3h2.7v40.5h-2.7zM826.2 961.2h2.7v37.8h-2.7zM826.2 1012.5h2.7v21.6h-2.7zM828.9 915.3h2.7v40.5h-2.7zM828.9 961.2h2.7v29.7h-2.7zM828.9 1001.7h2.7v10.8h-2.7zM831.6 969.3h2.7v21.6h-2.7zM831.6 999.0h2.7v18.9h-2.7zM831.6 1031.4h2.7v32.4h-2.7zM831.6 1077.3h2.7v5.4h-2.7zM834.3 999.0h2.7v18.9h-2.7zM834.3 1031.4h2.7v32.4h-2.7zM834.3 1069.2h2.7v62.1h-2.7zM837.0 1036.8h2.7v10.8h-2.7zM837.0 1061.1h2.7v70.2h-2.7zM839.7 1020.6h2.7v27.0h-2.7zM839.7 1061.1h2.7v13.5h-2.7zM842.4 985.5h2.7v21.6h-2.7zM842.4 1020.6h2.7v21.6h-2.7zM845.1 974.7h2.7v32.4h-2.7zM847.8 974.7h2.7v48.6h-2.7zM847.8 1036.8h2.7v29.7h-2.7zM847.8 1080.0h2.7v29.7h-2.7zM847.8 1123.2h2.7v27.0h-2.7zM850.5 999.0h2.7v24.3h-2.7zM850.5 1036.8h2.7v29.7h-2.7zM850.5 1080.0h2.7v140.4h-2.7zM853.2 1050.3h2.7v40.5h-2.7zM853.2 1104.3h2.7v29.7h-2.7zM853.2 1144.8h2.7v75.6h-2.7zM855.9 1050.3h2.7v40.5h-2.7zM855.9 1104.3h2.7v5.4h-2.7zM858.6 1042.2h2.7v32.4h-2.7zM858.6 1088.1h2.7v29.7h-2.7zM861.3 1042.2h2.7v32.4h-2.7zM861.3 1080.0h2.7v78.3h-2.7zM864.0 1017.9h2.7v29.7h-2.7zM864.0 1061.1h2.7v29.7h-2.7zM864.0 1104.3h2.7v54.0h-2.7zM866.7 996.3h2.7v51.3h-2.7zM866.7 1061.1h2.7v24.3h-2.7zM869.4 974.7h2.7v51.3h-2.7zM872.1 939.6h2.7v21.6h-2.7zM872.1 966.6h2.7v40.5h-2.7zM872.1 1012.5h2.7v18.9h-2.7zM874.8 939.6h2.7v21.6h-2.7zM874.8 966.6h2.7v32.4h-2.7zM874.8 1012.5h2.7v29.7h-2.7zM874.8 1055.7h2.7v18.9h-2.7zM877.5 980.1h2.7v18.9h-2.7zM877.5 1012.5h2.7v29.7h-2.7zM877.5 1055.7h2.7v18.9h-2.7zM880.2 980.1h2.7v18.9h-2.7zM880.2 1012.5h2.7v13.5h-2.7zM882.9 1009.8h2.7v16.2h-2.7zM885.6 1009.8h2.7v13.5h-2.7zM885.6 1036.8h2.7v32.4h-2.7zM885.6 1082.7h2.7v29.7h-2.7zM885.6 1125.9h2.7v29.7h-2.7zM885.6 1169.1h2.7v29.7h-2.7zM885.6 1212.3h2.7v8.1h-2.7zM888.3 1036.8h2.7v32.4h-2.7zM888.3 1082.7h2.7v29.7h-2.7zM888.3 1125.9h2.7v29.7h-2.7zM888.3 1169.1h2.7v29.7h-2.7zM888.3 1212.3h2.7v32.4h-2.7zM888.3 1258.2h2.7v29.7h-2.7zM891.0 996.3h2.7v27.0h-2.7zM891.0 1036.8h2.7v29.7h-2.7zM891.0 1080.0h2.7v32.4h-2.7zM891.0 1125.9h2.7v29.7h-2.7zM891.0 1169.1h2.7v29.7h-2.7zM891.0 1212.3h2.7v32.4h-2.7zM891.0 1258.2h2.7v29.7h-2.7zM893.7 993.6h2.7v29.7h-2.7zM893.7 1036.8h2.7v29.7h-2.7zM893.7 1080.0h2.7v21.6h-2.7zM896.4 993.6h2.7v8.1h-2.7zM896.4 1007.1h2.7v29.7h-2.7zM896.4 1050.3h2.7v32.4h-2.7zM896.4 1096.2h2.7v24.3h-2.7zM899.1 1015.2h2.7v21.6h-2.7zM899.1 1050.3h2.7v32.4h-2.7zM899.1 1096.2h2.7v32.4h-2.7zM899.1 1139.4h2.7v18.9h-2.7zM901.8 1036.8h2.7v5.4h-2.7zM901.8 1055.7h2.7v29.7h-2.7zM901.8 1098.9h2.7v29.7h-2.7zM901.8 1139.4h2.7v18.9h-2.7zM904.5 988.2h2.7v8.1h-2.7zM904.5 1009.8h2.7v32.4h-2.7zM904.5 1055.7h2.7v29.7h-2.7zM904.5 1098.9h2.7v29.7h-2.7zM907.2 982.8h2.7v21.6h-2.7zM907.2 1009.8h2.7v37.8h-2.7zM907.2 1061.1h2.7v29.7h-2.7zM907.2 1104.3h2.7v32.4h-2.7zM907.2 1150.2h2.7v29.7h-2.7zM907.2 1193.4h2.7v29.7h-2.7zM909.9 982.8h2.7v21.6h-2.7zM909.9 1017.9h2.7v29.7h-2.7zM909.9 1061.1h2.7v264.6h-2.7zM912.6 988.2h2.7v29.7h-2.7zM912.6 1031.4h2.7v29.7h-2.7zM912.6 1074.6h2.7v29.7h-2.7zM912.6 1117.8h2.7v32.4h-2.7zM912.6 1163.7h2.7v29.7h-2.7zM912.6 1206.9h2.7v118.8h-2.7zM915.3 988.2h2.7v72.9h-2.7zM915.3 1074.6h2.7v16.2h-2.7zM918.0 988.2h2.7v5.4h-2.7zM918.0 1004.4h2.7v29.7h-2.7zM918.0 1039.5h2.7v37.8h-2.7zM920.7 996.3h2.7v29.7h-2.7zM920.7 1039.5h2.7v37.8h-2.7zM923.4 996.3h2.7v29.7h-2.7zM926.1 977.4h2.7v24.3h-2.7zM926.1 1012.5h2.7v13.5h-2.7zM928.8 969.3h2.7v45.9h-2.7zM928.8 1028.7h2.7v32.4h-2.7zM928.8 1074.6h2.7v29.7h-2.7zM928.8 1117.8h2.7v29.7h-2.7zM931.5 969.3h2.7v13.5h-2.7zM931.5 985.5h2.7v29.7h-2.7zM931.5 1028.7h2.7v32.4h-2.7zM931.5 1074.6h2.7v29.7h-2.7zM931.5 1117.8h2.7v29.7h-2.7zM931.5 1150.2h2.7v67.5h-2.7zM934.2 1017.9h2.7v29.7h-2.7zM934.2 1061.1h2.7v29.7h-2.7zM934.2 1104.3h2.7v32.4h-2.7zM934.2 1150.2h2.7v67.5h-2.7zM936.9 972.0h2.7v43.2h-2.7zM936.9 1017.9h2.7v32.4h-2.7zM936.9 1061.1h2.7v29.7h-2.7zM936.9 1104.3h2.7v32.4h-2.7zM939.6 972.0h2.7v43.2h-2.7zM939.6 1028.7h2.7v45.9h-2.7zM942.3 974.7h2.7v13.5h-2.7zM942.3 1001.7h2.7v29.7h-2.7zM942.3 1044.9h2.7v29.7h-2.7zM945.0 958.5h2.7v40.5h-2.7zM945.0 1001.7h2.7v29.7h-2.7zM947.7 958.5h2.7v51.3h-2.7zM950.4 926.1h2.7v18.9h-2.7zM950.4 958.5h2.7v32.4h-2.7zM950.4 993.6h2.7v37.8h-2.7zM950.4 1044.9h2.7v29.7h-2.7zM950.4 1088.1h2.7v10.8h-2.7zM953.1 926.1h2.7v18.9h-2.7zM953.1 958.5h2.7v29.7h-2.7zM953.1 1001.7h2.7v29.7h-2.7zM953.1 1044.9h2.7v29.7h-2.7zM953.1 1088.1h2.7v32.4h-2.7zM953.1 1128.6h2.7v18.9h-2.7zM955.8 1082.7h2.7v37.8h-2.7zM955.8 1128.6h2.7v18.9h-2.7zM958.5 1050.3h2.7v18.9h-2.7zM958.5 1077.3h2.7v37.8h-2.7zM958.5 1123.2h2.7v29.7h-2.7zM958.5 1166.4h2.7v29.7h-2.7zM961.2 1050.3h2.7v18.9h-2.7zM961.2 1077.3h2.7v32.4h-2.7zM961.2 1123.2h2.7v29.7h-2.7zM961.2 1161.0h2.7v35.1h-2.7zM961.2 1204.2h2.7v37.8h-2.7zM963.9 1125.9h2.7v21.6h-2.7zM963.9 1161.0h2.7v29.7h-2.7zM963.9 1204.2h2.7v37.8h-2.7zM966.6 1080.0h2.7v5.4h-2.7zM966.6 1098.9h2.7v70.2h-2.7zM969.3 1055.7h2.7v29.7h-2.7zM969.3 1098.9h2.7v32.4h-2.7zM969.3 1144.8h2.7v24.3h-2.7zM972.0 990.9h2.7v8.1h-2.7zM972.0 1012.5h2.7v29.7h-2.7zM972.0 1055.7h2.7v29.7h-2.7zM974.7 974.7h2.7v67.5h-2.7zM977.4 974.7h2.7v21.6h-2.7zM977.4 999.0h2.7v32.4h-2.7zM977.4 1044.9h2.7v29.7h-2.7zM977.4 1088.1h2.7v29.7h-2.7zM977.4 1131.3h2.7v29.7h-2.7zM980.1 1044.9h2.7v29.7h-2.7zM980.1 1088.1h2.7v99.9h-2.7zM982.8 1074.6h2.7v29.7h-2.7zM982.8 1117.8h2.7v29.7h-2.7zM982.8 1155.6h2.7v32.4h-2.7zM985.5 1031.4h2.7v29.7h-2.7zM985.5 1074.6h2.7v29.7h-2.7zM985.5 1117.8h2.7v5.4h-2.7zM988.2 1004.4h2.7v13.5h-2.7zM988.2 1031.4h2.7v29.7h-2.7zM990.9 988.2h2.7v29.7h-2.7zM993.6 988.2h2.7v29.7h-2.7zM996.3 972.0h2.7v54.0h-2.7zM999.0 928.8h2.7v29.7h-2.7zM999.0 972.0h2.7v29.7h-2.7zM999.0 1012.5h2.7v13.5h-2.7zM1001.7 928.8h2.7v29.7h-2.7zM1004.4 899.1h2.7v16.2h-2.7zM1004.4 928.8h2.7v5.4h-2.7zM1007.1 888.3h2.7v27.0h-2.7zM1009.8 885.6h2.7v18.9h-2.7zM1012.5 839.7h2.7v32.4h-2.7zM1012.5 885.6h2.7v8.1h-2.7zM1015.2 818.1h2.7v8.1h-2.7zM1015.2 839.7h2.7v32.4h-2.7zM1017.9 801.9h2.7v24.3h-2.7zM1017.9 839.7h2.7v5.4h-2.7zM1020.6 796.5h2.7v27.0h-2.7zM1023.3 753.3h2.7v29.7h-2.7zM1023.3 796.5h2.7v10.8h-2.7zM1026.0 720.9h2.7v18.9h-2.7zM1026.0 753.3h2.7v29.7h-2.7zM1028.7 710.1h2.7v29.7h-2.7zM1031.4 688.5h2.7v8.1h-2.7zM1031.4 710.1h2.7v16.2h-2.7zM1034.1 672.3h2.7v24.3h-2.7zM1036.8 666.9h2.7v27.0h-2.7zM1039.5 639.9h2.7v13.5h-2.7zM1039.5 666.9h2.7v10.8h-2.7zM1042.2 626.4h2.7v27.0h-2.7zM1044.9 623.7h2.7v21.6h-2.7zM1047.6 623.7h2.7v8.1h-2.7zM1058.4 612.9h2.7v8.1h-2.7zM1061.1 612.9h2.7v8.1h-2.7zM1063.8 610.2h2.7v10.8h-2.7zM1066.5 607.5h2.7v13.5h-2.7zM1069.2 607.5h2.7v8.1h-2.7zM1071.9 604.8h2.7v8.1h-2.7zM1074.6 604.8h2.7v8.1h-2.7zM1077.3 604.8h2.7v5.4h-2.7zM1088.1 591.3h2.7v5.4h-2.7zM1090.8 585.9h2.7v10.8h-2.7zM1093.5 577.8h2.7v18.9h-2.7zM1096.2 577.8h2.7v13.5h-2.7zM1098.9 572.4h2.7v10.8h-2.7zM1101.6 572.4h2.7v10.8h-2.7zM1104.3 572.4h2.7v5.4h-2.7zM1109.7 548.1h2.7v13.5h-2.7zM1112.4 548.1h2.7v13.5h-2.7zM1115.1 548.1h2.7v8.1h-2.7zM1117.8 548.1h2.7v8.1h-2.7zM1120.5 545.4h2.7v8.1h-2.7zM1123.2 545.4h2.7v8.1h-2.7zM1125.9 545.4h2.7v8.1h-2.7zM1142.1 548.1h2.7v8.1h-2.7zM1144.8 548.1h2.7v8.1h-2.7zM1147.5 548.1h2.7v8.1h-2.7zM1150.2 548.1h2.7v13.5h-2.7zM1152.9 550.8h2.7v10.8h-2.7zM1155.6 545.4h2.7v16.2h-2.7zM1158.3 545.4h2.7v13.5h-2.7zM1163.7 526.5h2.7v8.1h-2.7zM1166.4 523.8h2.7v10.8h-2.7zM1169.1 523.8h2.7v10.8h-2.7zM1171.8 523.8h2.7v10.8h-2.7zM1174.5 529.2h2.7v5.4h-2.7zM1177.2 529.2h2.7v5.4h-2.7zM1179.9 526.5h2.7v8.1h-2.7zM1182.6 526.5h2.7v8.1h-2.7zM1196.1 526.5h2.7v10.8h-2.7zM1198.8 526.5h2.7v10.8h-2.7zM1201.5 526.5h2.7v5.4h-2.7zM1204.2 521.1h2.7v10.8h-2.7zM1206.9 521.1h2.7v10.8h-2.7zM1209.6 518.4h2.7v8.1h-2.7zM1212.3 518.4h2.7v8.1h-2.7zM1223.1 523.8h2.7v10.8h-2.7zM1225.8 523.8h2.7v16.2h-2.7zM1228.5 529.2h2.7v24.3h-2.7zM1231.2 534.6h2.7v18.9h-2.7zM1233.9 564.3h2.7v13.5h-2.7zM1236.6 564.3h2.7v24.3h-2.7zM1239.3 572.4h2.7v24.3h-2.7zM1242.0 583.2h2.7v13.5h-2.7zM1242.0 607.5h2.7v16.2h-2.7zM1244.7 607.5h2.7v32.4h-2.7zM1247.4 618.3h2.7v21.6h-2.7zM1247.4 653.4h2.7v21.6h-2.7zM1250.1 653.4h2.7v29.7h-2.7zM1252.8 669.6h2.7v13.5h-2.7zM1252.8 696.6h2.7v29.7h-2.7zM1255.5 696.6h2.7v29.7h-2.7zM1255.5 739.8h2.7v21.6h-2.7zM1258.2 739.8h2.7v29.7h-2.7zM1260.9 756.0h2.7v13.5h-2.7zM1260.9 783.0h2.7v29.7h-2.7zM1263.6 783.0h2.7v32.4h-2.7zM1263.6 828.9h2.7v13.5h-2.7zM1266.3 807.3h2.7v8.1h-2.7zM1266.3 828.9h2.7v29.7h-2.7zM1269.0 837.0h2.7v21.6h-2.7zM1269.0 872.1h2.7v29.7h-2.7zM1271.7 872.1h2.7v29.7h-2.7zM1271.7 915.3h2.7v29.7h-2.7zM1274.4 915.3h2.7v29.7h-2.7zM1274.4 958.5h2.7v32.4h-2.7zM1274.4 1004.4h2.7v10.8h-2.7zM1277.1 958.5h2.7v32.4h-2.7zM1277.1 1004.4h2.7v29.7h-2.7zM1277.1 1047.6h2.7v29.7h-2.7zM1277.1 1090.8h2.7v29.7h-2.7zM1279.8 1009.8h2.7v110.7h-2.7zM1282.5 977.4h2.7v37.8h-2.7zM1282.5 1026.0h2.7v32.4h-2.7zM1282.5 1071.9h2.7v29.7h-2.7zM1285.2 977.4h2.7v37.8h-2.7zM1285.2 1020.6h2.7v29.7h-2.7zM1285.2 1063.8h2.7v10.8h-2.7zM1287.9 985.5h2.7v21.6h-2.7zM1287.9 1020.6h2.7v29.7h-2.7zM1287.9 1063.8h2.7v29.7h-2.7zM1290.6 1069.2h2.7v24.3h-2.7zM1290.6 1107.0h2.7v37.8h-2.7zM1293.3 999.0h2.7v13.5h-2.7zM1293.3 1026.0h2.7v29.7h-2.7zM1293.3 1069.2h2.7v32.4h-2.7zM1293.3 1107.0h2.7v37.8h-2.7zM1296.0 999.0h2.7v18.9h-2.7zM1296.0 1026.0h2.7v29.7h-2.7zM1296.0 1069.2h2.7v32.4h-2.7zM1296.0 1115.1h2.7v10.8h-2.7zM1298.7 1001.7h2.7v16.2h-2.7zM1298.7 1031.4h2.7v32.4h-2.7zM1298.7 1077.3h2.7v29.7h-2.7zM1298.7 1120.5h2.7v29.7h-2.7zM1298.7 1163.7h2.7v18.9h-2.7zM1301.4 1050.3h2.7v13.5h-2.7zM1301.4 1074.6h2.7v32.4h-2.7zM1301.4 1117.8h2.7v32.4h-2.7zM1301.4 1163.7h2.7v18.9h-2.7zM1304.1 1074.6h2.7v35.1h-2.7zM1304.1 1117.8h2.7v35.1h-2.7zM1304.1 1155.6h2.7v40.5h-2.7zM1306.8 1012.5h2.7v32.4h-2.7zM1306.8 1055.7h2.7v32.4h-2.7zM1306.8 1090.8h2.7v105.3h-2.7zM1309.5 1012.5h2.7v40.5h-2.7zM1309.5 1055.7h2.7v43.2h-2.7zM1309.5 1101.6h2.7v75.6h-2.7zM1312.2 974.7h2.7v40.5h-2.7zM1312.2 1028.7h2.7v29.7h-2.7zM1312.2 1066.5h2.7v37.8h-2.7zM1312.2 1112.4h2.7v35.1h-2.7zM1312.2 1155.6h2.7v21.6h-2.7zM1314.9 974.7h2.7v40.5h-2.7zM1314.9 1017.9h2.7v40.5h-2.7zM1314.9 1063.8h2.7v40.5h-2.7zM1314.9 1107.0h2.7v29.7h-2.7zM1314.9 1147.5h2.7v18.9h-2.7zM1317.6 1017.9h2.7v32.4h-2.7zM1317.6 1063.8h2.7v29.7h-2.7zM1317.6 1104.3h2.7v32.4h-2.7zM1317.6 1147.5h2.7v18.9h-2.7zM1320.3 972.0h2.7v29.7h-2.7zM1320.3 1015.2h2.7v29.7h-2.7zM1320.3 1058.4h2.7v32.4h-2.7zM1320.3 1104.3h2.7v29.7h-2.7zM1320.3 1147.5h2.7v5.4h-2.7zM1323.0 972.0h2.7v37.8h-2.7zM1323.0 1015.2h2.7v29.7h-2.7zM1323.0 1058.4h2.7v13.5h-2.7zM1325.7 980.1h2.7v29.7h-2.7zM1325.7 1023.3h2.7v21.6h-2.7zM1325.7 1053.0h2.7v18.9h-2.7zM1328.4 1031.4h2.7v10.8h-2.7zM1328.4 1053.0h2.7v29.7h-2.7zM1328.4 1096.2h2.7v32.4h-2.7zM1328.4 1142.1h2.7v29.7h-2.7zM1328.4 1185.3h2.7v10.8h-2.7zM1331.1 1066.5h2.7v16.2h-2.7zM1331.1 1096.2h2.7v32.4h-2.7zM1331.1 1142.1h2.7v54.0h-2.7zM1333.8 1171.8h2.7v43.2h-2.7zM1336.5 1090.8h2.7v27.0h-2.7zM1336.5 1131.3h2.7v29.7h-2.7zM1336.5 1174.5h2.7v40.5h-2.7zM1339.2 1009.8h2.7v18.9h-2.7zM1339.2 1042.2h2.7v32.4h-2.7zM1339.2 1088.1h2.7v29.7h-2.7zM1339.2 1131.3h2.7v29.7h-2.7zM1339.2 1174.5h2.7v24.3h-2.7zM1341.9 1009.8h2.7v18.9h-2.7zM1341.9 1042.2h2.7v32.4h-2.7zM1341.9 1088.1h2.7v8.1h-2.7zM1344.6 1012.5h2.7v10.8h-2.7zM1344.6 1036.8h2.7v29.7h-2.7zM1347.3 1036.8h2.7v29.7h-2.7zM1347.3 1080.0h2.7v48.6h-2.7zM1350.0 1009.8h2.7v29.7h-2.7zM1350.0 1053.0h2.7v75.6h-2.7zM1352.7 961.2h2.7v35.1h-2.7zM1352.7 1004.4h2.7v35.1h-2.7zM1352.7 1053.0h2.7v29.7h-2.7zM1352.7 1096.2h2.7v8.1h-2.7zM1355.4 961.2h2.7v35.1h-2.7zM1355.4 1004.4h2.7v29.7h-2.7zM1355.4 1047.6h2.7v32.4h-2.7zM1355.4 1093.5h2.7v29.7h-2.7zM1355.4 1136.7h2.7v29.7h-2.7zM1355.4 1179.9h2.7v40.5h-2.7zM1358.1 1017.9h2.7v24.3h-2.7zM1358.1 1047.6h2.7v40.5h-2.7zM1358.1 1093.5h2.7v37.8h-2.7zM1358.1 1136.7h2.7v37.8h-2.7zM1358.1 1179.9h2.7v40.5h-2.7zM1360.8 1023.3h2.7v18.9h-2.7zM1360.8 1053.0h2.7v43.2h-2.7zM1360.8 1101.6h2.7v29.7h-2.7zM1360.8 1144.8h2.7v29.7h-2.7zM1363.5 1023.3h2.7v27.0h-2.7zM1363.5 1053.0h2.7v43.2h-2.7zM1366.2 1023.3h2.7v29.7h-2.7zM1366.2 1063.8h2.7v16.2h-2.7zM1368.9 961.2h2.7v56.7h-2.7zM1368.9 1031.4h2.7v21.6h-2.7zM1371.6 961.2h2.7v67.5h-2.7zM1371.6 1042.2h2.7v29.7h-2.7zM1374.3 999.0h2.7v29.7h-2.7zM1374.3 1042.2h2.7v32.4h-2.7zM1374.3 1085.4h2.7v18.9h-2.7zM1377.0 974.7h2.7v10.8h-2.7zM1377.0 999.0h2.7v29.7h-2.7zM1377.0 1042.2h2.7v32.4h-2.7zM1377.0 1085.4h2.7v18.9h-2.7zM1379.7 961.2h2.7v24.3h-2.7zM1379.7 988.2h2.7v40.5h-2.7zM1379.7 1042.2h2.7v29.7h-2.7zM1382.4 961.2h2.7v18.9h-2.7zM1382.4 988.2h2.7v29.7h-2.7zM1382.4 1031.4h2.7v29.7h-2.7zM1382.4 1074.6h2.7v29.7h-2.7zM1382.4 1117.8h2.7v32.4h-2.7zM1382.4 1163.7h2.7v40.5h-2.7zM1385.1 1031.4h2.7v29.7h-2.7zM1385.1 1074.6h2.7v86.4h-2.7zM1385.1 1163.7h2.7v40.5h-2.7zM1387.8 1007.1h2.7v21.6h-2.7zM1387.8 1042.2h2.7v29.7h-2.7zM1387.8 1085.4h2.7v32.4h-2.7zM1387.8 1131.3h2.7v29.7h-2.7zM1387.8 1174.5h2.7v5.4h-2.7zM1390.5 1007.1h2.7v21.6h-2.7zM1390.5 1036.8h2.7v35.1h-2.7zM1393.2 1036.8h2.7v29.7h-2.7zM1395.9 1012.5h2.7v54.0h-2.7zM1398.6 1012.5h2.7v75.6h-2.7zM1398.6 1101.6h2.7v8.1h-2.7zM1401.3 1039.5h2.7v5.4h-2.7zM1401.3 1058.4h2.7v29.7h-2.7zM1401.3 1101.6h2.7v21.6h-2.7zM1404.0 1071.9h2.7v27.0h-2.7zM1404.0 1104.3h2.7v18.9h-2.7zM1406.7 1036.8h2.7v16.2h-2.7zM1406.7 1066.5h2.7v32.4h-2.7zM1409.4 1028.7h2.7v24.3h-2.7zM1409.4 1066.5h2.7v10.8h-2.7zM1412.1 1028.7h2.7v13.5h-2.7zM1412.1 1055.7h2.7v29.7h-2.7zM1412.1 1090.8h2.7v21.6h-2.7zM1414.8 1028.7h2.7v83.7h-2.7zM1417.5 1028.7h2.7v75.6h-2.7zM1417.5 1117.8h2.7v29.7h-2.7zM1417.5 1161.0h2.7v29.7h-2.7zM1417.5 1204.2h2.7v32.4h-2.7zM1417.5 1244.7h2.7v35.1h-2.7zM1417.5 1287.9h2.7v21.6h-2.7zM1420.2 1088.1h2.7v10.8h-2.7zM1420.2 1112.4h2.7v35.1h-2.7zM1420.2 1155.6h2.7v35.1h-2.7zM1420.2 1201.5h2.7v35.1h-2.7zM1420.2 1244.7h2.7v35.1h-2.7zM1420.2 1287.9h2.7v21.6h-2.7zM1422.9 1044.9h2.7v54.0h-2.7zM1422.9 1112.4h2.7v29.7h-2.7zM1422.9 1155.6h2.7v32.4h-2.7zM1422.9 1201.5h2.7v29.7h-2.7zM1425.6 1044.9h2.7v94.5h-2.7zM1428.3 1074.6h2.7v97.2h-2.7zM1431.0 1074.6h2.7v51.3h-2.7zM1431.0 1139.4h2.7v32.4h-2.7zM1431.0 1185.3h2.7v29.7h-2.7zM1431.0 1228.5h2.7v156.6h-2.7zM1433.7 977.4h2.7v35.1h-2.7zM1433.7 1026.0h2.7v29.7h-2.7zM1433.7 1069.2h2.7v32.4h-2.7zM1433.7 1115.1h2.7v29.7h-2.7zM1433.7 1158.3h2.7v226.8h-2.7zM1436.4 977.4h2.7v35.1h-2.7zM1436.4 1020.6h2.7v35.1h-2.7zM1436.4 1069.2h2.7v32.4h-2.7zM1436.4 1115.1h2.7v29.7h-2.7zM1436.4 1158.3h2.7v29.7h-2.7zM1436.4 1201.5h2.7v32.4h-2.7zM1439.1 988.2h2.7v18.9h-2.7zM1439.1 1020.6h2.7v32.4h-2.7zM1439.1 1066.5h2.7v27.0h-2.7zM1441.8 1039.5h2.7v62.1h-2.7zM1444.5 1039.5h2.7v35.1h-2.7zM1444.5 1088.1h2.7v29.7h-2.7zM1444.5 1131.3h2.7v32.4h-2.7zM1444.5 1177.2h2.7v32.4h-2.7zM1447.2 1090.8h2.7v29.7h-2.7zM1447.2 1131.3h2.7v35.1h-2.7zM1447.2 1177.2h2.7v32.4h-2.7zM1449.9 1009.8h2.7v24.3h-2.7zM1449.9 1047.6h2.7v29.7h-2.7zM1449.9 1090.8h2.7v29.7h-2.7zM1449.9 1134.0h2.7v32.4h-2.7zM1449.9 1179.9h2.7v8.1h-2.7zM1452.6 1004.4h2.7v29.7h-2.7zM1452.6 1047.6h2.7v29.7h-2.7zM1455.3 1004.4h2.7v10.8h-2.7zM1455.3 1026.0h2.7v29.7h-2.7zM1458.0 1026.0h2.7v29.7h-2.7zM1458.0 1069.2h2.7v24.3h-2.7zM1460.7 1044.9h2.7v48.6h-2.7zM1463.4 1034.1h2.7v35.1h-2.7zM1466.1 1034.1h2.7v29.7h-2.7zM1468.8 1026.0h2.7v37.8h-2.7zM1471.5 1026.0h2.7v29.7h-2.7zM1474.2 1026.0h2.7v40.5h-2.7zM1476.9 1036.8h2.7v29.7h-2.7zM1479.6 1036.8h2.7v32.4h-2.7zM1479.6 1082.7h2.7v18.9h-2.7zM1482.3 1039.5h2.7v32.4h-2.7zM1482.3 1082.7h2.7v18.9h-2.7zM1485.0 1031.4h2.7v40.5h-2.7zM1487.7 999.0h2.7v21.6h-2.7zM1487.7 1026.0h2.7v29.7h-2.7zM1490.4 999.0h2.7v21.6h-2.7zM1490.4 1026.0h2.7v40.5h-2.7zM1490.4 1080.0h2.7v24.3h-2.7zM1493.1 1036.8h2.7v29.7h-2.7zM1493.1 1080.0h2.7v29.7h-2.7zM1495.8 1042.2h2.7v13.5h-2.7zM1495.8 1063.8h2.7v29.7h-2.7zM1495.8 1098.9h2.7v10.8h-2.7zM1498.5 1039.5h2.7v45.9h-2.7zM1501.2 1015.2h2.7v29.7h-2.7zM1501.2 1050.3h2.7v16.2h-2.7zM1503.9 1015.2h2.7v35.1h-2.7zM1506.6 1020.6h2.7v29.7h-2.7zM1506.6 1063.8h2.7v29.7h-2.7zM1506.6 1107.0h2.7v32.4h-2.7zM1506.6 1152.9h2.7v5.4h-2.7zM1509.3 1063.8h2.7v29.7h-2.7zM1509.3 1107.0h2.7v32.4h-2.7zM1509.3 1152.9h2.7v118.8h-2.7zM1512.0 1055.7h2.7v24.3h-2.7zM1512.0 1093.5h2.7v29.7h-2.7zM1512.0 1136.7h2.7v135.0h-2.7zM1514.7 1047.6h2.7v32.4h-2.7zM1514.7 1093.5h2.7v29.7h-2.7zM1514.7 1136.7h2.7v29.7h-2.7zM1514.7 1179.9h2.7v8.1h-2.7zM1517.4 1020.6h2.7v13.5h-2.7zM1517.4 1047.6h2.7v13.5h-2.7zM1520.1 1017.9h2.7v16.2h-2.7zM1522.8 1012.5h2.7v24.3h-2.7zM1525.5 1012.5h2.7v32.4h-2.7zM1525.5 1047.6h2.7v18.9h-2.7zM1528.2 1031.4h2.7v37.8h-2.7zM1528.2 1082.7h2.7v24.3h-2.7zM1530.9 1039.5h2.7v29.7h-2.7zM1530.9 1082.7h2.7v43.2h-2.7zM1530.9 1128.6h2.7v40.5h-2.7zM1530.9 1171.8h2.7v24.3h-2.7zM1533.6 1020.6h2.7v18.9h-2.7zM1533.6 1053.0h2.7v29.7h-2.7zM1533.6 1096.2h2.7v29.7h-2.7zM1533.6 1128.6h2.7v40.5h-2.7zM1533.6 1171.8h2.7v24.3h-2.7zM1536.3 1020.6h2.7v62.1h-2.7zM1536.3 1096.2h2.7v21.6h-2.7zM1539.0 963.9h2.7v24.3h-2.7zM1539.0 990.9h2.7v40.5h-2.7zM1539.0 1034.1h2.7v48.6h-2.7zM1541.7 963.9h2.7v24.3h-2.7zM1541.7 990.9h2.7v40.5h-2.7zM1541.7 1044.9h2.7v32.4h-2.7zM1541.7 1090.8h2.7v29.7h-2.7zM1541.7 1134.0h2.7v29.7h-2.7zM1541.7 1177.2h2.7v32.4h-2.7zM1541.7 1223.1h2.7v29.7h-2.7zM1544.4 1053.0h2.7v24.3h-2.7zM1544.4 1090.8h2.7v29.7h-2.7zM1544.4 1134.0h2.7v29.7h-2.7zM1544.4 1177.2h2.7v207.9h-2.7zM1547.1 974.7h2.7v43.2h-2.7zM1547.1 1031.4h2.7v32.4h-2.7zM1547.1 1077.3h2.7v29.7h-2.7zM1547.1 1120.5h2.7v29.7h-2.7zM1547.1 1163.7h2.7v32.4h-2.7zM1547.1 1209.6h2.7v29.7h-2.7zM1547.1 1252.8h2.7v132.3h-2.7zM1549.8 974.7h2.7v132.3h-2.7zM1549.8 1120.5h2.7v29.7h-2.7zM1549.8 1163.7h2.7v29.7h-2.7zM1552.5 1017.9h2.7v29.7h-2.7zM1552.5 1061.1h2.7v32.4h-2.7zM1552.5 1101.6h2.7v10.8h-2.7zM1555.2 1093.5h2.7v18.9h-2.7zM1557.9 1093.5h2.7v18.9h-2.7zM1557.9 1125.9h2.7v24.3h-2.7zM1560.6 1104.3h2.7v45.9h-2.7zM1563.3 1098.9h2.7v51.3h-2.7zM1566.0 1098.9h2.7v10.8h-2.7zM1566.0 1120.5h2.7v29.7h-2.7zM1566.0 1163.7h2.7v32.4h-2.7zM1566.0 1209.6h2.7v5.4h-2.7zM1568.7 1144.8h2.7v62.1h-2.7zM1568.7 1209.6h2.7v21.6h-2.7zM1571.4 1063.8h2.7v10.8h-2.7zM1571.4 1088.1h2.7v29.7h-2.7zM1571.4 1131.3h2.7v32.4h-2.7zM1571.4 1177.2h2.7v29.7h-2.7zM1571.4 1209.6h2.7v21.6h-2.7zM1574.1 1058.4h2.7v16.2h-2.7zM1574.1 1088.1h2.7v29.7h-2.7zM1574.1 1131.3h2.7v18.9h-2.7zM1576.8 1020.6h2.7v13.5h-2.7zM1576.8 1047.6h2.7v21.6h-2.7zM1579.5 993.6h2.7v40.5h-2.7zM1579.5 1047.6h2.7v16.2h-2.7zM1582.2 993.6h2.7v32.4h-2.7zM1582.2 1036.8h2.7v13.5h-2.7zM1584.9 1004.4h2.7v21.6h-2.7zM1584.9 1036.8h2.7v32.4h-2.7zM1587.6 1044.9h2.7v29.7h-2.7zM1590.3 1053.0h2.7v21.6h-2.7zM1590.3 1088.1h2.7v29.7h-2.7zM1593.0 1088.1h2.7v37.8h-2.7zM1595.7 1058.4h2.7v24.3h-2.7zM1595.7 1096.2h2.7v29.7h-2.7zM1598.4 1020.6h2.7v18.9h-2.7zM1598.4 1050.3h2.7v32.4h-2.7zM1598.4 1096.2h2.7v21.6h-2.7zM1601.1 1020.6h2.7v18.9h-2.7zM1601.1 1050.3h2.7v32.4h-2.7zM1603.8 1053.0h2.7v29.7h-2.7zM1603.8 1096.2h2.7v29.7h-2.7zM1606.5 1085.4h2.7v40.5h-2.7zM1609.2 1047.6h2.7v24.3h-2.7zM1609.2 1085.4h2.7v29.7h-2.7zM1611.9 1042.2h2.7v37.8h-2.7zM1611.9 1093.5h2.7v29.7h-2.7zM1614.6 1042.2h2.7v37.8h-2.7zM1614.6 1093.5h2.7v29.7h-2.7zM1614.6 1136.7h2.7v32.4h-2.7zM1614.6 1182.6h2.7v24.3h-2.7zM1617.3 1136.7h2.7v32.4h-2.7zM1617.3 1182.6h2.7v27.0h-2.7zM1620.0 1115.1h2.7v32.4h-2.7zM1620.0 1161.0h2.7v29.7h-2.7zM1620.0 1201.5h2.7v8.1h-2.7zM1622.7 1055.7h2.7v45.9h-2.7zM1622.7 1115.1h2.7v32.4h-2.7zM1622.7 1161.0h2.7v29.7h-2.7zM1625.4 1055.7h2.7v62.1h-2.7zM1628.1 1004.4h2.7v37.8h-2.7zM1628.1 1055.7h2.7v32.4h-2.7zM1628.1 1098.9h2.7v18.9h-2.7zM1630.8 1004.4h2.7v37.8h-2.7zM1630.8 1050.3h2.7v29.7h-2.7zM1630.8 1093.5h2.7v29.7h-2.7zM1630.8 1136.7h2.7v27.0h-2.7zM1633.5 1009.8h2.7v27.0h-2.7zM1633.5 1050.3h2.7v29.7h-2.7zM1633.5 1093.5h2.7v35.1h-2.7zM1633.5 1136.7h2.7v35.1h-2.7zM1633.5 1182.6h2.7v35.1h-2.7zM1633.5 1225.8h2.7v35.1h-2.7zM1636.2 972.0h2.7v24.3h-2.7zM1636.2 999.0h2.7v40.5h-2.7zM1636.2 1044.9h2.7v40.5h-2.7zM1636.2 1098.9h2.7v29.7h-2.7zM1636.2 1142.1h2.7v29.7h-2.7zM1636.2 1182.6h2.7v35.1h-2.7zM1636.2 1225.8h2.7v35.1h-2.7zM1638.9 972.0h2.7v24.3h-2.7zM1638.9 999.0h2.7v40.5h-2.7zM1638.9 1044.9h2.7v70.2h-2.7zM1641.6 1028.7h2.7v21.6h-2.7zM1641.6 1053.0h2.7v62.1h-2.7zM1644.3 1017.9h2.7v32.4h-2.7zM1644.3 1063.8h2.7v18.9h-2.7zM1647.0 1017.9h2.7v32.4h-2.7zM1647.0 1063.8h2.7v29.7h-2.7zM1649.7 1031.4h2.7v18.9h-2.7zM1649.7 1063.8h2.7v29.7h-2.7zM1649.7 1107.0h2.7v24.3h-2.7zM1652.4 1107.0h2.7v29.7h-2.7zM1652.4 1150.2h2.7v29.7h-2.7zM1652.4 1193.4h2.7v32.4h-2.7zM1652.4 1239.3h2.7v5.4h-2.7zM1655.1 1125.9h2.7v10.8h-2.7zM1655.1 1150.2h2.7v29.7h-2.7zM1655.1 1185.3h2.7v40.5h-2.7zM1655.1 1228.5h2.7v40.5h-2.7zM1655.1 1274.4h2.7v37.8h-2.7zM1657.8 1053.0h2.7v32.4h-2.7zM1657.8 1098.9h2.7v29.7h-2.7zM1657.8 1142.1h2.7v29.7h-2.7zM1657.8 1185.3h2.7v29.7h-2.7zM1657.8 1228.5h2.7v40.5h-2.7zM1657.8 1274.4h2.7v37.8h-2.7zM1660.5 1009.8h2.7v29.7h-2.7zM1660.5 1053.0h2.7v32.4h-2.7zM1660.5 1098.9h2.7v29.7h-2.7zM1660.5 1142.1h2.7v29.7h-2.7zM1663.2 972.0h2.7v67.5h-2.7zM1665.9 972.0h2.7v56.7h-2.7zM1665.9 1042.2h2.7v5.4h-2.7zM1668.6 996.3h2.7v32.4h-2.7zM1668.6 1031.4h2.7v24.3h-2.7zM1671.3 966.6h2.7v54.0h-2.7zM1671.3 1031.4h2.7v24.3h-2.7zM1674.0 966.6h2.7v35.1h-2.7zM1674.0 1007.1h2.7v40.5h-2.7zM1676.7 1015.2h2.7v35.1h-2.7zM1679.4 1015.2h2.7v35.1h-2.7zM1679.4 1063.8h2.7v29.7h-2.7zM1679.4 1107.0h2.7v29.7h-2.7zM1679.4 1150.2h2.7v32.4h-2.7zM1679.4 1196.1h2.7v29.7h-2.7zM1679.4 1239.3h2.7v10.8h-2.7zM1682.1 1063.8h2.7v29.7h-2.7zM1682.1 1107.0h2.7v29.7h-2.7zM1682.1 1150.2h2.7v40.5h-2.7zM1682.1 1196.1h2.7v40.5h-2.7zM1682.1 1239.3h2.7v40.5h-2.7zM1682.1 1282.5h2.7v40.5h-2.7zM1682.1 1328.4h2.7v21.6h-2.7zM1684.8 1039.5h2.7v21.6h-2.7zM1684.8 1074.6h2.7v29.7h-2.7zM1684.8 1117.8h2.7v29.7h-2.7zM1684.8 1161.0h2.7v29.7h-2.7zM1684.8 1204.2h2.7v32.4h-2.7zM1684.8 1244.7h2.7v35.1h-2.7zM1684.8 1282.5h2.7v40.5h-2.7zM1684.8 1328.4h2.7v21.6h-2.7zM1687.5 1034.1h2.7v70.2h-2.7zM1687.5 1117.8h2.7v29.7h-2.7zM1690.2 1012.5h2.7v29.7h-2.7zM1690.2 1055.7h2.7v24.3h-2.7zM1692.9 1012.5h2.7v45.9h-2.7zM1692.9 1071.9h2.7v29.7h-2.7zM1692.9 1115.1h2.7v24.3h-2.7zM1695.6 1028.7h2.7v29.7h-2.7zM1695.6 1071.9h2.7v118.8h-2.7zM1698.3 982.8h2.7v18.9h-2.7zM1698.3 1015.2h2.7v29.7h-2.7zM1698.3 1058.4h2.7v29.7h-2.7zM1698.3 1101.6h2.7v89.1h-2.7zM1701.0 969.3h2.7v32.4h-2.7zM1701.0 1015.2h2.7v29.7h-2.7zM1701.0 1058.4h2.7v27.0h-2.7zM1703.7 969.3h2.7v32.4h-2.7zM1703.7 1009.8h2.7v35.1h-2.7zM1706.4 988.2h2.7v56.7h-2.7zM1709.1 988.2h2.7v27.0h-2.7zM1709.1 1023.3h2.7v37.8h-2.7zM1711.8 988.2h2.7v21.6h-2.7zM1711.8 1015.2h2.7v45.9h-2.7zM1714.5 988.2h2.7v21.6h-2.7zM1714.5 1015.2h2.7v32.4h-2.7zM1717.2 1026.0h2.7v21.6h-2.7zM1717.2 1061.1h2.7v16.2h-2.7zM1719.9 1023.3h2.7v32.4h-2.7zM1719.9 1061.1h2.7v21.6h-2.7zM1722.6 996.3h2.7v21.6h-2.7zM1722.6 1023.3h2.7v37.8h-2.7zM1722.6 1069.2h2.7v13.5h-2.7zM1725.3 996.3h2.7v21.6h-2.7zM1725.3 1031.4h2.7v29.7h-2.7zM1725.3 1074.6h2.7v32.4h-2.7zM1725.3 1120.5h2.7v29.7h-2.7zM1725.3 1163.7h2.7v27.0h-2.7zM1728.0 1071.9h2.7v162.0h-2.7zM1730.7 1007.1h2.7v29.7h-2.7zM1730.7 1050.3h2.7v29.7h-2.7zM1730.7 1093.5h2.7v32.4h-2.7zM1730.7 1139.4h2.7v29.7h-2.7zM1730.7 1182.6h2.7v51.3h-2.7zM1733.4 1007.1h2.7v35.1h-2.7zM1733.4 1050.3h2.7v27.0h-2.7zM1736.1 1007.1h2.7v35.1h-2.7zM1738.8 977.4h2.7v18.9h-2.7zM1738.8 1007.1h2.7v32.4h-2.7zM1738.8 1053.0h2.7v29.7h-2.7zM1738.8 1096.2h2.7v13.5h-2.7zM1741.5 977.4h2.7v18.9h-2.7zM1741.5 1009.8h2.7v29.7h-2.7zM1741.5 1053.0h2.7v29.7h-2.7zM1741.5 1096.2h2.7v32.4h-2.7zM1741.5 1142.1h2.7v21.6h-2.7zM1744.2 1104.3h2.7v32.4h-2.7zM1744.2 1142.1h2.7v21.6h-2.7zM1746.9 1063.8h2.7v29.7h-2.7zM1746.9 1107.0h2.7v29.7h-2.7zM1749.6 1031.4h2.7v18.9h-2.7zM1749.6 1063.8h2.7v29.7h-2.7zM1749.6 1107.0h2.7v16.2h-2.7zM1752.3 1031.4h2.7v18.9h-2.7zM1755.0 1042.2h2.7v32.4h-2.7zM1755.0 1088.1h2.7v32.4h-2.7zM1757.7 1044.9h2.7v29.7h-2.7zM1757.7 1085.4h2.7v72.9h-2.7zM1760.4 1061.1h2.7v97.2h-2.7zM1760.4 1163.7h2.7v29.7h-2.7zM1763.1 1061.1h2.7v197.1h-2.7zM1765.8 1031.4h2.7v8.1h-2.7zM1765.8 1053.0h2.7v29.7h-2.7zM1765.8 1096.2h2.7v29.7h-2.7zM1765.8 1139.4h2.7v32.4h-2.7zM1765.8 1185.3h2.7v72.9h-2.7zM1768.5 1031.4h2.7v54.0h-2.7zM1771.2 1031.4h2.7v29.7h-2.7zM1771.2 1074.6h2.7v29.7h-2.7zM1773.9 1066.5h2.7v37.8h-2.7zM1776.6 1066.5h2.7v13.5h-2.7zM1779.3 950.4h2.7v29.7h-2.7zM1779.3 993.6h2.7v29.7h-2.7zM1779.3 1036.8h2.7v43.2h-2.7zM1782.0 904.5h2.7v118.8h-2.7zM1782.0 1036.8h2.7v29.7h-2.7zM1782.0 1074.6h2.7v5.4h-2.7zM1784.7 904.5h2.7v48.6h-2.7zM1784.7 966.6h2.7v29.7h-2.7zM1784.7 1009.8h2.7v32.4h-2.7zM1784.7 1055.7h2.7v29.7h-2.7zM1784.7 1098.9h2.7v29.7h-2.7zM1787.4 1012.5h2.7v29.7h-2.7zM1787.4 1055.7h2.7v113.4h-2.7zM1790.1 1028.7h2.7v29.7h-2.7zM1790.1 1071.9h2.7v32.4h-2.7zM1790.1 1117.8h2.7v51.3h-2.7zM1792.8 1012.5h2.7v75.6h-2.7zM1792.8 1101.6h2.7v13.5h-2.7zM1795.5 1012.5h2.7v29.7h-2.7zM1795.5 1055.7h2.7v40.5h-2.7zM1795.5 1101.6h2.7v37.8h-2.7zM1798.2 1061.1h2.7v35.1h-2.7zM1798.2 1109.7h2.7v29.7h-2.7zM1800.9 1053.0h2.7v40.5h-2.7zM1800.9 1096.2h2.7v24.3h-2.7zM1803.6 1015.2h2.7v24.3h-2.7zM1803.6 1053.0h2.7v29.7h-2.7zM1803.6 1096.2h2.7v24.3h-2.7zM1806.3 1015.2h2.7v54.0h-2.7zM1809.0 1036.8h2.7v48.6h-2.7zM1811.7 1017.9h2.7v21.6h-2.7zM1811.7 1053.0h2.7v32.4h-2.7zM1814.4 1009.8h2.7v51.3h-2.7zM1817.1 1009.8h2.7v13.5h-2.7zM1817.1 1026.0h2.7v32.4h-2.7zM1817.1 1069.2h2.7v18.9h-2.7zM1819.8 980.1h2.7v32.4h-2.7zM1819.8 1026.0h2.7v29.7h-2.7zM1819.8 1069.2h2.7v18.9h-2.7zM1822.5 980.1h2.7v45.9h-2.7zM1825.2 980.1h2.7v5.4h-2.7zM1825.2 996.3h2.7v29.7h-2.7zM1825.2 1039.5h2.7v29.7h-2.7zM1827.9 1039.5h2.7v29.7h-2.7zM1827.9 1074.6h2.7v18.9h-2.7zM1830.6 1026.0h2.7v27.0h-2.7zM1830.6 1066.5h2.7v27.0h-2.7zM1833.3 1023.3h2.7v29.7h-2.7zM1833.3 1066.5h2.7v13.5h-2.7zM1836.0 1023.3h2.7v32.4h-2.7zM1836.0 1069.2h2.7v29.7h-2.7zM1838.7 1031.4h2.7v24.3h-2.7zM1838.7 1069.2h2.7v43.2h-2.7zM1841.4 1085.4h2.7v51.3h-2.7zM1844.1 1085.4h2.7v10.8h-2.7zM1844.1 1109.7h2.7v29.7h-2.7zM1844.1 1152.9h2.7v32.4h-2.7zM1846.8 1131.3h2.7v8.1h-2.7zM1846.8 1152.9h2.7v32.4h-2.7zM1846.8 1198.8h2.7v29.7h-2.7zM1849.5 1093.5h2.7v27.0h-2.7zM1849.5 1134.0h2.7v29.7h-2.7zM1849.5 1177.2h2.7v72.9h-2.7zM1852.2 1063.8h2.7v13.5h-2.7zM1852.2 1090.8h2.7v29.7h-2.7zM1852.2 1134.0h2.7v29.7h-2.7zM1852.2 1177.2h2.7v32.4h-2.7zM1852.2 1223.1h2.7v27.0h-2.7zM1854.9 1023.3h2.7v18.9h-2.7zM1854.9 1055.7h2.7v21.6h-2.7zM1854.9 1090.8h2.7v8.1h-2.7zM1857.6 1012.5h2.7v29.7h-2.7zM1857.6 1055.7h2.7v16.2h-2.7zM1860.3 1007.1h2.7v32.4h-2.7zM1860.3 1053.0h2.7v29.7h-2.7zM1860.3 1096.2h2.7v29.7h-2.7zM1860.3 1139.4h2.7v29.7h-2.7zM1860.3 1182.6h2.7v32.4h-2.7zM1860.3 1228.5h2.7v29.7h-2.7zM1860.3 1271.7h2.7v29.7h-2.7zM1860.3 1314.9h2.7v13.5h-2.7zM1863.0 1007.1h2.7v32.4h-2.7zM1863.0 1053.0h2.7v29.7h-2.7zM1863.0 1096.2h2.7v29.7h-2.7zM1863.0 1139.4h2.7v245.7h-2.7zM1865.7 1004.4h2.7v8.1h-2.7zM1865.7 1026.0h2.7v32.4h-2.7zM1865.7 1071.9h2.7v29.7h-2.7zM1865.7 1115.1h2.7v29.7h-2.7zM1865.7 1158.3h2.7v29.7h-2.7zM1865.7 1201.5h2.7v32.4h-2.7zM1865.7 1247.4h2.7v29.7h-2.7zM1865.7 1290.6h2.7v29.7h-2.7zM1865.7 1323.0h2.7v62.1h-2.7zM1868.4 985.5h2.7v72.9h-2.7zM1868.4 1071.9h2.7v29.7h-2.7zM1868.4 1115.1h2.7v29.7h-2.7zM1871.1 985.5h2.7v54.0h-2.7zM1871.1 1053.0h2.7v29.7h-2.7zM1871.1 1096.2h2.7v32.4h-2.7zM1871.1 1142.1h2.7v13.5h-2.7zM1873.8 1034.1h2.7v5.4h-2.7zM1873.8 1053.0h2.7v29.7h-2.7zM1873.8 1096.2h2.7v75.6h-2.7zM1876.5 1080.0h2.7v29.7h-2.7zM1876.5 1123.2h2.7v48.6h-2.7zM1879.2 1042.2h2.7v24.3h-2.7zM1879.2 1080.0h2.7v29.7h-2.7zM1881.9 1004.4h2.7v18.9h-2.7zM1881.9 1036.8h2.7v29.7h-2.7zM1884.6 999.0h2.7v24.3h-2.7zM1884.6 1026.0h2.7v21.6h-2.7zM1887.3 999.0h2.7v13.5h-2.7zM1887.3 1026.0h2.7v32.4h-2.7zM1887.3 1071.9h2.7v29.7h-2.7zM1887.3 1115.1h2.7v29.7h-2.7zM1887.3 1158.3h2.7v16.2h-2.7zM1890.0 1026.0h2.7v164.7h-2.7zM1892.7 1012.5h2.7v35.1h-2.7zM1892.7 1058.4h2.7v32.4h-2.7zM1892.7 1101.6h2.7v32.4h-2.7zM1892.7 1144.8h2.7v45.9h-2.7zM1895.4 1012.5h2.7v35.1h-2.7zM1895.4 1061.1h2.7v29.7h-2.7zM1895.4 1104.3h2.7v94.5h-2.7zM1898.1 1055.7h2.7v16.2h-2.7zM1898.1 1085.4h2.7v29.7h-2.7zM1898.1 1128.6h2.7v29.7h-2.7zM1898.1 1171.8h2.7v27.0h-2.7zM1900.8 1050.3h2.7v21.6h-2.7zM1900.8 1077.3h2.7v37.8h-2.7zM1900.8 1123.2h2.7v29.7h-2.7zM1903.5 1028.7h2.7v5.4h-2.7zM1903.5 1047.6h2.7v118.8h-2.7zM1906.2 1012.5h2.7v21.6h-2.7zM1906.2 1036.8h2.7v40.5h-2.7zM1906.2 1082.7h2.7v40.5h-2.7zM1906.2 1136.7h2.7v29.7h-2.7zM1908.9 1012.5h2.7v21.6h-2.7zM1908.9 1036.8h2.7v32.4h-2.7zM1908.9 1082.7h2.7v21.6h-2.7zM1911.6 1069.2h2.7v8.1h-2.7zM1911.6 1090.8h2.7v13.5h-2.7zM1914.3 1066.5h2.7v24.3h-2.7zM1917.0 1066.5h2.7v24.3h-2.7z"/></g>
<rect x="982" y="382.5" width="110" height="6" fill="#000"/><polygon points="1083,369.8 1129,385.5 1083,399.5" fill="#000"/><polygon points="1181,369.8 1135,385.5 1181,399.5" fill="#000"/><rect x="1170" y="382.5" width="123" height="6" fill="#000"/>
<rect x="1194.5" y="55.5" width="827" height="170" fill="#fff" stroke="#000" stroke-width="5"/><rect x="2024" y="56" width="3" height="168" fill="#b0b0bc"/><rect x="1200" y="97.5" width="150" height="4.5" fill="#0000ff"/><line x1="1200" y1="178.6" x2="1350" y2="178.6" stroke="#ff0000" stroke-width="5" stroke-dasharray="27 19 24.7 19.1 24.7 19.3 16.5 100"/>
<g fill="#000"><text x="305.0" y="1407.7" font-size="95" text-anchor="end" >60</text><text x="305.0" y="1260.0" font-size="95" text-anchor="end" >70</text><text x="305.0" y="1112.2" font-size="95" text-anchor="end" >80</text><text x="305.0" y="964.5" font-size="95" text-anchor="end" >90</text><text x="305.0" y="816.8" font-size="95" text-anchor="end" >100</text><text x="305.0" y="669.1" font-size="95" text-anchor="end" >110</text><text x="305.0" y="521.3" font-size="95" text-anchor="end" >120</text><text x="305.0" y="373.6" font-size="95" text-anchor="end" >130</text><text x="332.6" y="1483.5" font-size="95" text-anchor="middle" >0</text><text x="1126.8" y="1483.5" font-size="95" text-anchor="middle" >1000</text><text x="1916.7" y="1483.5" font-size="95" text-anchor="middle" >2000</text><text x="792.1" y="303.8" font-size="64" text-anchor="start" >(1005,133)</text><g fill="#fff"><rect x="152.65" y="809.39" width="17.73" height="8.70"/><rect x="178.78" y="809.39" width="16.99" height="8.70"/><rect x="152.65" y="661.66" width="17.73" height="8.70"/><rect x="178.78" y="661.66" width="16.99" height="8.70"/><rect x="205.49" y="661.66" width="17.73" height="8.70"/><rect x="231.62" y="661.66" width="16.99" height="8.70"/><rect x="152.65" y="513.93" width="17.73" height="8.70"/><rect x="178.78" y="513.93" width="16.99" height="8.70"/><rect x="152.65" y="366.20" width="17.73" height="8.70"/><rect x="178.78" y="366.20" width="16.99" height="8.70"/><rect x="1027.29" y="1476.10" width="17.73" height="8.70"/><rect x="1053.42" y="1476.10" width="16.99" height="8.70"/><rect x="817.30" y="298.72" width="12.21" height="6.38"/><rect x="835.16" y="298.72" width="11.71" height="6.38"/><rect x="977.46" y="298.72" width="12.21" height="6.38"/><rect x="995.32" y="298.72" width="11.71" height="6.38"/></g><text x="897.3" y="1574.8" font-size="96.7" text-anchor="start" >Depth(μm)</text><text x="0.0" y="0.0" font-size="96.5" text-anchor="start" transform="translate(133.2,1101.8) rotate(-90)">Amplitude(dB)</text><text x="834.7" y="404.5" font-size="64" text-anchor="start" >-6dB</text><text x="1300.4" y="407.2" font-size="64" text-anchor="start" >δz=4.8μm</text><text x="1364.2" y="121.1" font-size="64" text-anchor="start" >Uncalibrated</text><text x="1366.3" y="200.3" font-size="64" text-anchor="start" >Wavelength calibration</text></g>
</svg>
</body></html>
